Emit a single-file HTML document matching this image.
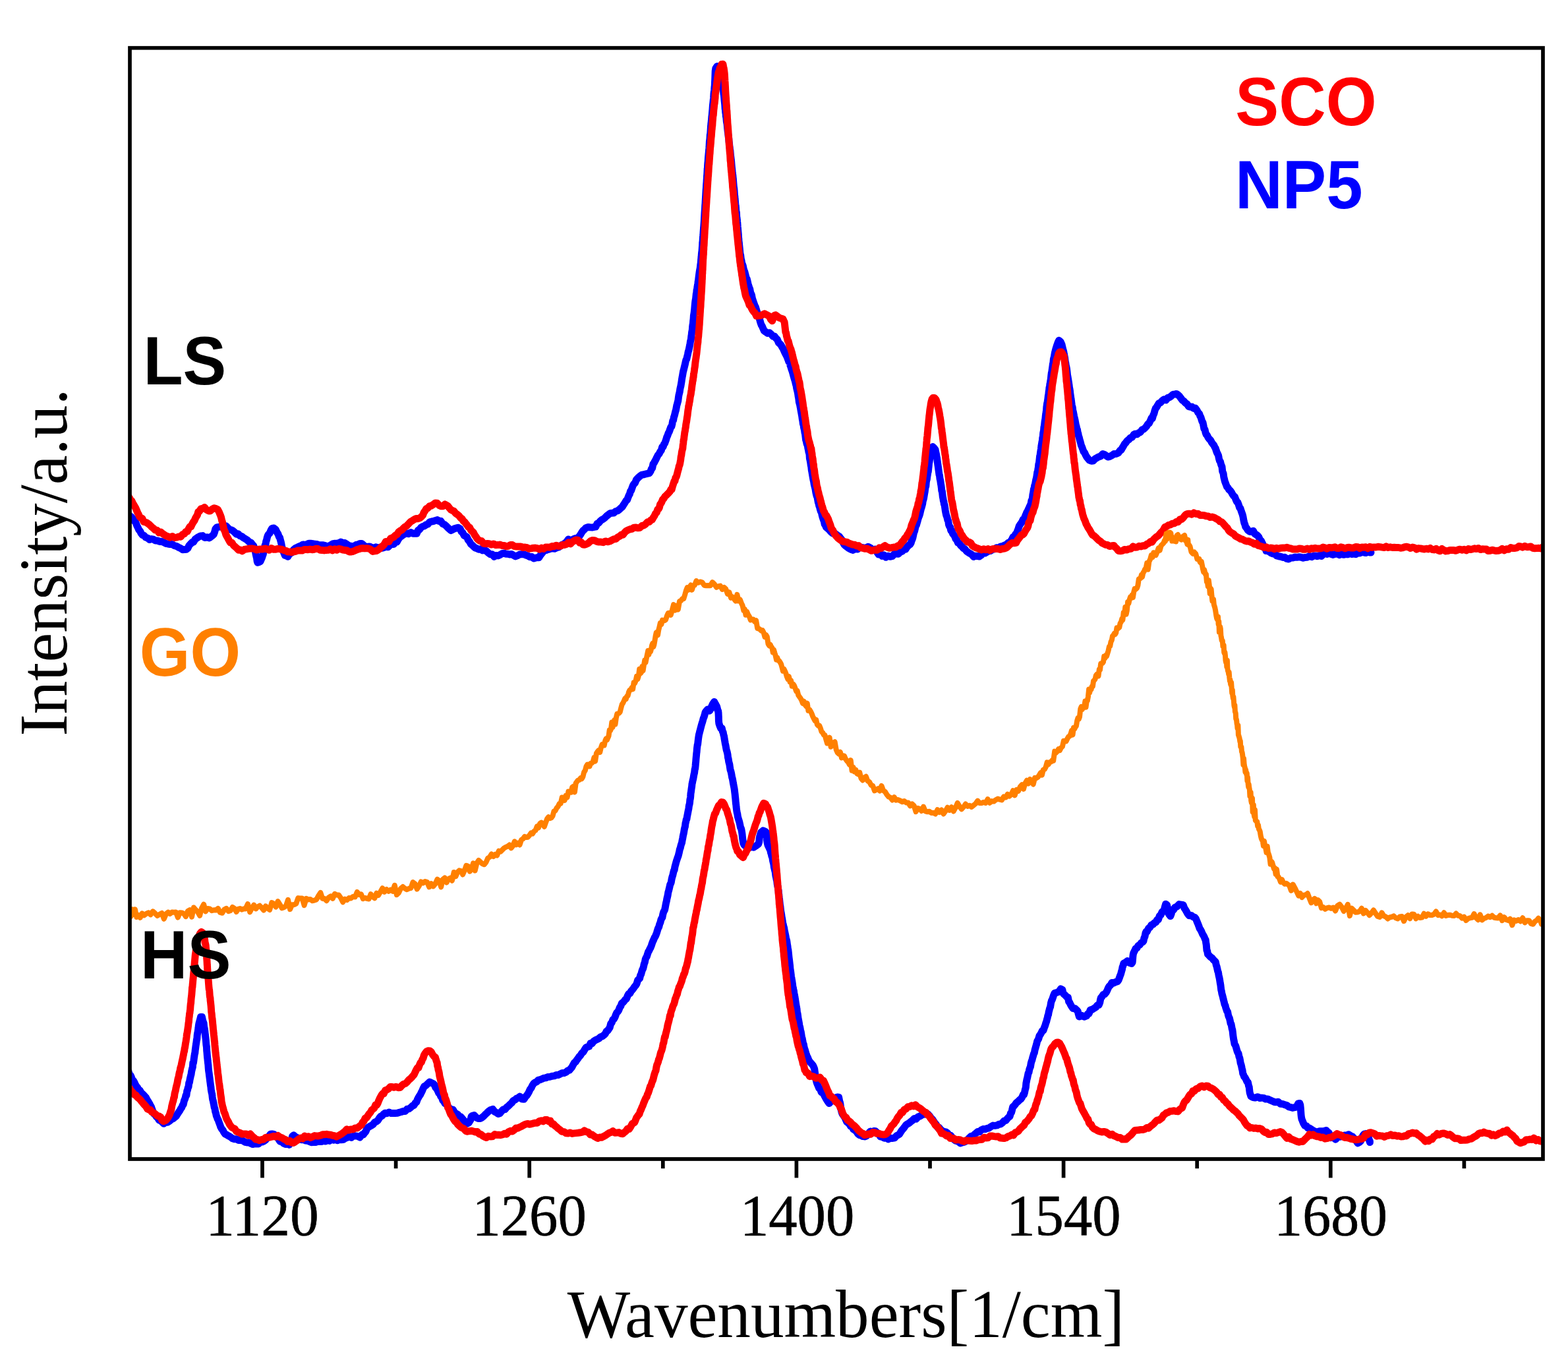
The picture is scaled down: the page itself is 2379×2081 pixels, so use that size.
<!DOCTYPE html>
<html><head><meta charset="utf-8"><title>Raman spectra</title>
<style>
html,body{margin:0;padding:0;background:#fff;}
body{width:2379px;height:2081px;overflow:hidden;}
svg{display:block;}
.serif{font-family:"Liberation Serif","Times New Roman",serif;}
.sans{font-family:"Liberation Sans",Arial,sans-serif;font-weight:bold;}
</style></head>
<body>
<svg width="2379" height="2081" viewBox="0 0 2379 2081">
<rect x="0" y="0" width="2379" height="2081" fill="#fff"/>
<defs><clipPath id="plot"><rect x="197" y="72.7" width="2144" height="1685.3"/></clipPath></defs>
<g clip-path="url(#plot)" fill="none" stroke-linejoin="round" stroke-linecap="round">
<path d="M192.0 779.0L194.3 781.3L196.7 782.2L198.9 783.7L201.0 785.8L202.8 789.1L204.5 790.8L206.2 793.1L207.8 797.3L209.3 800.4L210.9 803.8L212.5 805.5L214.2 809.0L216.1 811.5L218.4 812.2L221.0 815.0L223.9 815.9L226.9 818.4L229.9 817.6L232.9 818.2L236.0 820.1L239.2 820.1L242.3 821.4L245.2 821.2L248.6 822.7L251.7 824.3L254.8 825.0L258.0 825.5L261.1 825.4L264.3 827.5L267.5 828.3L270.6 830.1L273.8 831.5L277.1 833.7L280.0 833.6L282.7 833.2L284.9 831.6L286.9 827.4L289.0 825.1L291.3 822.7L293.7 822.1L296.2 817.8L298.7 816.1L301.2 814.4L304.1 813.0L307.4 812.6L310.6 815.5L314.0 814.8L317.7 815.9L321.0 813.4L322.8 812.1L324.2 810.6L325.5 807.4L326.9 802.2L328.8 799.9L331.4 799.4L334.3 798.8L337.4 797.8L340.5 798.0L343.0 797.8L345.6 800.6L348.2 802.9L350.8 803.8L353.4 805.0L356.0 807.4L358.7 810.2L361.4 809.8L364.1 812.7L366.8 813.5L369.4 815.7L372.2 817.3L375.2 819.2L378.1 822.0L380.8 823.1L383.0 826.1L384.5 827.5L385.6 830.1L386.5 834.0L387.2 834.9L388.0 840.0L388.8 843.6L389.5 846.3L390.2 851.4L390.9 853.3L392.9 852.7L395.0 851.6L396.5 848.1L397.5 845.9L398.3 843.3L399.1 841.3L400.0 837.1L400.7 834.4L401.4 831.8L402.1 827.0L402.9 826.2L403.7 821.1L404.5 819.2L405.4 815.0L406.3 812.4L407.3 810.5L409.0 809.0L410.8 804.8L412.7 801.4L415.5 801.0L418.2 803.1L420.1 807.1L421.9 810.0L423.4 814.3L424.5 815.3L425.4 819.0L426.2 821.7L426.9 824.9L427.6 829.1L428.4 831.5L429.3 834.5L430.8 838.8L432.3 842.5L434.1 842.9L436.9 844.3L438.9 840.5L441.1 839.1L443.4 837.7L445.7 833.5L448.2 831.5L451.0 830.2L453.9 828.8L456.9 827.6L459.9 825.9L462.7 826.5L465.5 825.7L468.5 824.2L471.6 824.3L474.6 824.6L477.6 825.3L480.7 825.5L483.9 826.6L487.1 826.7L490.3 826.8L493.5 827.6L496.5 828.7L499.5 828.0L502.5 826.3L505.4 824.6L508.3 824.2L511.2 824.4L514.1 823.6L517.0 822.1L520.1 823.4L523.1 823.6L526.0 825.2L528.9 827.5L531.7 828.2L534.6 828.9L537.5 828.2L540.3 826.5L543.3 825.9L546.2 824.4L548.9 824.6L551.8 827.0L554.7 829.9L557.8 829.3L560.9 828.9L563.9 830.4L567.0 831.6L570.3 829.8L573.6 831.3L576.8 830.0L579.9 831.3L582.8 830.4L586.0 829.3L588.9 829.7L591.8 826.7L594.6 825.1L597.5 825.5L599.8 821.6L602.2 822.0L604.5 817.9L606.8 814.7L609.1 813.3L611.4 811.4L613.8 810.0L616.6 808.7L620.0 809.8L623.4 807.5L626.6 809.3L629.7 809.1L632.2 809.3L634.4 804.2L636.5 803.2L638.8 800.2L641.4 798.5L643.8 797.9L646.3 796.0L649.1 795.1L651.9 791.8L654.9 791.0L657.8 790.5L660.6 789.6L663.4 788.5L666.1 790.4L668.8 790.3L671.6 794.5L674.3 795.6L677.0 797.8L679.5 800.4L682.0 802.7L684.2 804.6L686.9 803.3L689.9 801.6L692.7 801.0L695.1 800.2L698.1 802.0L700.1 806.4L702.1 808.2L704.2 812.2L706.3 813.2L708.3 814.4L710.3 819.0L712.4 821.5L714.4 825.2L716.5 826.8L718.6 828.9L720.9 831.0L723.4 831.8L726.2 833.2L729.2 832.8L732.2 834.9L735.2 834.5L738.1 836.0L741.0 838.6L743.9 840.7L746.8 840.8L749.7 844.3L752.6 842.5L755.6 842.9L758.5 841.7L761.5 839.8L764.4 838.9L767.4 840.2L770.3 840.2L773.2 841.0L776.1 840.4L779.0 842.2L782.1 843.9L785.3 842.7L788.4 841.0L791.7 840.6L795.0 840.8L797.8 842.1L800.8 843.0L803.9 844.8L806.9 844.6L809.9 847.0L812.7 846.2L815.3 845.7L817.6 845.8L819.8 842.3L821.9 839.6L824.0 837.0L826.3 834.6L828.7 834.5L831.7 833.4L834.9 832.4L838.2 831.8L841.5 832.2L844.7 830.7L847.5 830.0L850.1 828.4L852.5 826.3L854.9 825.6L857.3 823.7L859.7 821.7L862.4 817.9L865.4 820.1L868.4 818.6L871.3 817.1L874.2 816.4L876.6 815.8L878.7 813.7L880.7 810.8L882.7 807.5L884.6 804.8L886.6 803.2L888.7 800.9L892.0 799.5L895.3 799.8L898.7 800.0L901.5 799.3L903.8 799.1L906.1 794.1L908.3 793.3L910.6 790.5L912.8 788.5L915.0 787.5L917.6 785.5L920.3 782.7L922.9 780.8L925.5 778.7L928.3 778.2L931.2 778.0L934.2 775.5L937.1 774.7L939.7 772.8L941.9 770.6L944.1 768.9L946.2 765.4L948.3 762.2L950.2 759.1L951.6 758.3L952.9 754.5L954.1 751.6L955.3 749.5L956.5 745.1L957.6 744.2L958.9 740.4L960.2 736.7L961.8 733.9L963.6 732.4L965.4 727.7L967.4 725.5L969.4 723.6L971.5 721.8L974.0 720.1L977.0 719.7L980.2 718.8L983.1 718.2L985.3 717.6L987.0 714.9L988.4 711.3L989.7 709.9L991.0 703.7L992.3 702.1L993.7 699.4L995.1 696.8L996.7 693.4L998.3 690.3L1000.0 688.4L1001.7 685.1L1003.3 683.0L1004.7 677.9L1006.1 677.6L1007.4 673.8L1008.6 672.4L1009.7 669.4L1010.7 666.6L1011.7 663.0L1012.8 660.8L1014.0 657.2L1015.3 654.8L1016.5 651.5L1017.7 647.9L1018.9 647.0L1019.9 643.0L1020.8 638.1L1021.6 637.6L1022.4 632.9L1023.2 630.8L1024.0 627.5L1024.7 624.5L1025.5 622.0L1026.2 618.3L1026.9 614.6L1027.5 612.7L1028.2 609.9L1028.8 607.9L1029.4 603.0L1030.0 599.2L1030.6 596.7L1031.2 594.4L1031.8 590.2L1032.4 587.4L1032.9 585.5L1033.5 581.8L1034.0 579.0L1034.5 575.3L1035.0 572.3L1035.5 569.7L1036.0 566.8L1036.6 563.4L1037.3 561.0L1037.9 558.5L1038.6 555.7L1039.3 552.9L1040.1 549.0L1040.9 545.9L1041.8 544.5L1042.6 540.8L1043.4 537.8L1044.2 533.6L1045.0 531.2L1045.8 527.5L1046.5 523.9L1047.0 521.1L1047.5 517.8L1047.9 516.4L1048.4 514.5L1048.8 510.2L1049.2 508.0L1049.6 504.1L1049.9 502.5L1050.3 500.5L1050.7 494.9L1051.0 492.7L1051.4 490.9L1051.7 486.9L1052.1 483.6L1052.4 478.7L1052.7 477.1L1053.1 474.8L1053.4 472.1L1053.8 468.4L1054.1 464.3L1054.4 461.2L1054.8 457.3L1055.2 454.9L1055.5 453.7L1055.9 449.8L1056.3 445.8L1056.7 444.9L1057.1 439.6L1057.5 439.1L1058.0 435.0L1058.4 432.8L1058.8 430.3L1059.2 427.2L1059.6 425.2L1060.0 421.4L1060.4 418.3L1060.8 415.2L1061.3 411.6L1061.7 409.3L1062.1 407.6L1062.5 404.3L1062.8 401.5L1063.2 399.1L1063.6 394.2L1064.0 390.4L1064.4 385.4L1064.7 382.5L1064.9 381.9L1065.2 378.0L1065.4 374.8L1065.6 372.5L1065.8 367.9L1066.1 366.0L1066.3 362.8L1066.5 359.2L1066.7 358.6L1066.9 355.9L1067.1 351.9L1067.3 349.3L1067.6 345.2L1067.8 343.3L1068.0 340.4L1068.2 337.9L1068.4 334.8L1068.6 330.8L1068.8 327.1L1069.0 323.3L1069.2 320.3L1069.4 318.0L1069.6 314.8L1069.8 311.1L1070.0 309.2L1070.2 305.1L1070.4 301.4L1070.6 298.0L1070.8 294.9L1071.0 290.9L1071.2 287.6L1071.4 285.5L1071.6 281.6L1071.8 278.6L1072.0 276.7L1072.2 272.4L1072.4 270.5L1072.6 266.3L1072.8 264.5L1073.0 260.6L1073.2 255.8L1073.4 255.3L1073.6 251.2L1073.9 246.9L1074.1 245.7L1074.3 242.9L1074.5 239.0L1074.8 236.2L1075.0 233.9L1075.3 231.2L1075.6 227.7L1075.9 224.4L1076.1 221.0L1076.4 214.8L1076.7 212.8L1077.0 210.2L1077.3 204.8L1077.6 204.0L1077.9 200.8L1078.2 196.2L1078.4 193.2L1078.7 189.5L1079.0 187.0L1079.3 183.8L1079.6 180.7L1079.9 176.7L1080.2 174.7L1080.5 171.1L1080.7 169.1L1081.0 165.6L1081.3 161.2L1081.6 158.3L1081.8 156.7L1082.1 153.5L1082.3 151.5L1082.6 149.2L1082.8 145.9L1083.0 142.1L1083.4 138.8L1083.7 136.7L1084.0 132.2L1084.3 129.9L1084.5 124.8L1084.7 121.2L1084.9 116.0L1085.0 112.9L1085.2 107.5L1085.4 106.4L1085.9 103.5L1087.9 100.6L1090.0 103.3L1092.0 108.0L1093.1 111.4L1093.8 113.4L1094.4 117.5L1094.9 118.7L1095.4 124.2L1095.9 125.5L1096.3 129.4L1096.8 134.4L1097.2 135.6L1097.6 137.9L1097.9 142.2L1098.3 144.3L1098.6 147.1L1098.9 150.4L1099.2 153.4L1099.5 156.3L1099.8 159.4L1100.1 164.8L1100.4 166.3L1100.8 171.0L1101.1 172.2L1101.4 176.4L1101.8 177.6L1102.1 181.0L1102.4 184.6L1102.8 186.6L1103.1 188.3L1103.5 192.4L1103.8 195.6L1104.2 199.2L1104.5 201.0L1104.9 204.7L1105.3 208.0L1105.7 209.8L1106.0 214.2L1106.4 216.8L1106.8 221.0L1107.2 223.8L1107.5 226.9L1107.9 228.4L1108.3 233.4L1108.6 236.5L1109.0 239.2L1109.3 242.4L1109.6 244.7L1109.9 248.7L1110.2 252.0L1110.5 255.0L1110.8 257.1L1111.2 261.9L1111.5 264.2L1111.8 265.9L1112.1 269.6L1112.4 271.5L1112.7 275.9L1113.0 279.7L1113.3 283.2L1113.6 285.0L1113.9 287.0L1114.2 291.5L1114.5 295.8L1114.8 297.9L1115.1 301.9L1115.4 304.6L1115.7 308.2L1116.0 310.5L1116.3 312.4L1116.6 316.3L1116.9 320.8L1117.2 321.3L1117.5 323.0L1117.7 329.0L1118.0 330.3L1118.3 332.8L1118.6 336.1L1118.9 338.7L1119.2 343.7L1119.5 346.6L1119.7 349.2L1120.0 352.6L1120.3 355.8L1120.5 360.1L1120.8 362.2L1121.0 366.5L1121.3 367.8L1121.6 370.9L1121.9 373.9L1122.2 376.7L1122.5 379.8L1122.8 383.3L1123.2 386.1L1123.6 386.7L1124.3 392.8L1125.0 395.2L1125.7 399.5L1126.5 401.0L1127.3 403.3L1128.1 407.4L1128.9 410.1L1129.8 412.2L1130.7 415.7L1131.5 418.6L1132.3 421.6L1133.2 423.0L1134.1 426.4L1135.0 430.5L1135.9 433.7L1136.8 436.2L1137.7 438.3L1138.7 443.8L1139.6 445.5L1140.5 447.8L1141.4 452.7L1142.4 455.5L1143.4 458.5L1144.4 461.3L1145.4 464.1L1146.4 465.8L1147.4 469.4L1148.4 472.6L1149.4 475.7L1150.4 478.4L1151.4 480.3L1152.4 483.9L1153.3 487.3L1154.3 490.6L1155.3 493.2L1156.5 495.2L1157.8 498.3L1159.3 501.6L1161.8 503.5L1164.6 505.4L1167.6 504.7L1170.4 507.3L1172.9 510.3L1175.1 510.1L1177.3 513.1L1179.4 515.1L1181.4 519.9L1183.4 521.6L1185.2 523.7L1186.8 526.8L1188.3 529.1L1189.8 532.6L1191.2 535.5L1192.6 538.3L1194.0 541.0L1195.0 543.7L1196.0 546.2L1197.0 549.1L1198.0 549.4L1198.9 553.9L1199.9 556.6L1200.8 559.6L1201.7 562.2L1202.7 565.4L1203.6 568.9L1204.4 571.8L1205.3 574.9L1206.0 576.9L1206.7 579.5L1207.4 582.8L1208.1 584.9L1208.7 588.9L1209.4 591.7L1210.0 594.0L1210.6 597.1L1211.2 601.4L1211.8 604.4L1212.4 609.8L1213.0 611.9L1213.5 613.6L1214.1 616.9L1214.6 619.5L1215.1 622.5L1215.7 625.7L1216.2 628.6L1216.7 631.2L1217.3 635.7L1217.9 638.8L1218.4 643.1L1219.0 643.6L1219.5 648.2L1220.0 650.3L1220.5 652.3L1221.0 656.2L1221.5 657.9L1222.0 662.0L1222.6 667.1L1223.3 669.0L1223.9 672.2L1224.5 674.4L1225.2 675.0L1225.8 679.5L1226.5 682.4L1227.0 685.6L1227.5 687.1L1228.0 689.1L1228.4 695.2L1228.9 697.4L1229.4 699.8L1229.8 702.2L1230.3 705.9L1230.8 707.9L1231.3 712.9L1231.8 715.4L1232.3 718.4L1232.8 721.3L1233.4 724.7L1234.0 727.9L1234.6 730.4L1235.2 734.5L1235.8 736.9L1236.5 739.7L1237.1 742.1L1237.8 746.8L1238.5 749.9L1239.2 752.5L1239.9 753.4L1240.6 757.6L1241.3 761.6L1242.0 763.6L1242.8 767.4L1243.5 768.8L1244.3 772.4L1245.3 775.5L1246.2 776.4L1247.2 781.4L1248.1 784.8L1249.1 787.7L1250.2 790.5L1251.2 795.3L1252.3 796.6L1253.4 799.6L1255.8 801.5L1258.1 803.5L1260.7 806.7L1263.3 809.0L1266.2 808.9L1269.1 810.8L1271.6 812.7L1273.4 813.6L1275.3 816.3L1277.2 818.5L1279.2 822.9L1281.2 826.4L1283.3 828.2L1285.4 829.8L1287.5 831.5L1291.2 833.5L1294.4 834.4L1297.7 832.4L1301.0 833.1L1304.2 829.9L1307.3 830.3L1310.7 831.0L1313.9 831.1L1317.1 829.3L1320.5 830.9L1322.9 833.3L1325.4 833.9L1327.9 833.1L1330.5 837.2L1333.0 841.0L1335.7 840.1L1338.3 843.3L1341.0 841.8L1344.1 845.2L1347.4 843.3L1350.6 844.3L1353.9 843.7L1357.1 840.1L1360.1 840.0L1363.0 840.2L1366.0 837.1L1368.8 836.3L1371.5 833.5L1373.9 833.3L1376.0 829.9L1378.5 827.2L1380.6 825.9L1382.1 823.7L1383.1 820.3L1384.1 818.0L1385.0 815.2L1385.8 811.3L1386.7 807.5L1387.6 805.6L1388.5 801.6L1389.4 797.7L1390.3 796.6L1391.2 793.5L1392.1 790.4L1393.0 786.8L1393.9 784.3L1394.9 782.0L1395.8 778.9L1396.7 774.8L1397.5 771.6L1398.3 769.4L1399.1 766.3L1399.7 764.0L1400.3 759.5L1400.9 758.2L1401.5 755.9L1402.1 752.1L1402.7 748.4L1403.2 745.9L1403.8 741.0L1404.3 738.5L1404.8 737.4L1405.3 731.3L1405.8 728.6L1406.3 727.1L1406.8 723.0L1407.3 720.1L1407.8 716.5L1408.3 715.3L1408.8 710.1L1409.2 706.9L1409.6 702.2L1410.0 700.9L1410.5 697.1L1410.9 694.3L1411.3 692.3L1411.8 688.5L1412.5 683.9L1413.7 680.0L1415.2 677.6L1417.5 679.9L1419.0 682.0L1419.8 685.8L1420.6 689.5L1421.1 693.0L1421.6 694.8L1422.1 698.9L1422.6 702.6L1423.0 705.4L1423.5 708.8L1424.0 712.8L1424.5 716.2L1425.0 720.0L1425.5 721.2L1426.0 726.0L1426.5 727.8L1426.9 730.1L1427.4 733.7L1427.9 736.3L1428.4 740.2L1428.8 744.4L1429.3 744.9L1429.8 748.9L1430.3 753.5L1430.8 755.7L1431.4 759.6L1431.9 760.8L1432.4 764.7L1433.0 765.5L1433.7 770.1L1434.3 774.5L1435.0 778.1L1435.7 781.5L1436.4 783.1L1437.1 785.4L1437.8 788.7L1438.7 790.3L1439.5 795.7L1440.5 798.3L1441.6 799.5L1442.8 804.7L1444.2 805.1L1445.6 809.6L1447.0 811.3L1448.5 813.3L1450.1 817.6L1451.7 818.9L1453.4 823.2L1455.4 824.0L1457.5 827.2L1459.6 829.0L1461.8 831.6L1464.1 833.0L1466.4 836.0L1468.9 837.8L1471.6 839.4L1474.4 841.2L1477.2 844.4L1480.1 843.2L1483.0 843.6L1485.7 844.0L1488.5 842.2L1491.4 839.4L1494.3 839.1L1497.2 837.5L1500.1 835.8L1503.1 835.5L1506.1 833.2L1509.2 832.7L1512.1 830.7L1514.8 831.8L1517.8 829.1L1521.1 828.4L1524.1 827.0L1527.1 825.7L1530.0 823.0L1532.8 821.5L1535.0 818.9L1537.1 814.4L1539.1 814.1L1540.8 810.2L1542.2 809.4L1543.4 806.0L1544.8 802.6L1546.2 798.1L1547.6 795.8L1549.1 793.8L1550.6 791.7L1552.2 788.0L1553.7 787.7L1555.1 783.7L1556.5 780.6L1557.8 777.1L1559.2 774.9L1560.5 772.1L1561.8 769.1L1563.0 766.5L1564.0 764.4L1564.9 759.4L1565.7 758.0L1566.4 755.7L1566.9 750.7L1567.4 748.7L1567.9 745.5L1568.4 742.0L1569.0 740.8L1569.7 736.6L1570.4 734.9L1571.1 731.4L1571.7 727.9L1572.5 725.0L1573.2 720.7L1573.8 716.3L1574.4 715.0L1574.9 711.6L1575.3 709.5L1575.8 704.3L1576.2 703.6L1576.7 700.4L1577.1 696.7L1577.6 691.9L1578.1 690.5L1578.5 686.6L1579.0 683.7L1579.5 680.6L1579.9 676.5L1580.4 673.8L1580.9 670.6L1581.4 668.5L1581.8 664.0L1582.3 662.7L1582.7 657.1L1583.1 655.1L1583.5 653.3L1583.9 648.1L1584.3 646.9L1584.7 643.7L1585.1 639.9L1585.5 637.2L1585.9 635.5L1586.3 630.9L1586.7 628.4L1587.1 625.4L1587.5 622.9L1587.9 617.2L1588.3 614.6L1588.7 611.6L1589.2 609.3L1589.6 607.0L1590.0 604.1L1590.4 600.2L1590.8 598.7L1591.2 594.5L1591.6 592.2L1592.0 588.1L1592.5 586.6L1592.9 582.6L1593.3 581.3L1593.8 577.8L1594.3 575.2L1594.8 569.9L1595.3 565.9L1595.8 564.0L1596.3 560.1L1596.9 556.0L1597.4 552.0L1597.9 550.3L1598.4 544.9L1598.9 542.9L1599.4 541.2L1600.0 537.2L1600.5 535.1L1601.0 532.6L1601.9 529.2L1602.7 526.7L1603.7 523.5L1605.2 519.2L1606.7 516.3L1609.2 518.6L1611.0 522.5L1611.8 525.9L1612.7 529.8L1613.3 532.0L1613.8 533.6L1614.4 537.2L1615.0 540.2L1615.6 543.1L1616.2 547.9L1616.8 550.8L1617.3 554.2L1617.9 556.5L1618.4 559.0L1619.0 563.9L1619.5 568.8L1620.0 571.1L1620.5 574.5L1621.0 577.3L1621.5 580.8L1622.0 583.6L1622.5 588.1L1622.9 589.7L1623.4 592.6L1623.8 597.0L1624.2 599.4L1624.6 602.2L1625.0 605.0L1625.4 607.4L1625.8 610.6L1626.2 613.7L1626.7 616.3L1627.2 617.6L1627.8 623.2L1628.4 624.8L1629.0 627.8L1629.6 631.1L1630.3 634.0L1631.0 637.0L1631.7 640.7L1632.4 644.6L1633.1 646.7L1633.8 650.3L1634.5 651.7L1635.2 656.2L1635.8 657.4L1636.5 661.4L1637.3 663.5L1638.1 666.7L1638.8 669.1L1639.6 671.9L1640.4 675.4L1641.4 677.5L1642.6 680.8L1644.0 684.9L1645.5 686.5L1647.1 690.1L1648.9 693.3L1650.7 695.5L1652.6 697.9L1655.9 699.3L1658.6 699.1L1661.4 696.0L1664.1 694.4L1666.7 692.9L1670.0 691.9L1673.1 688.5L1676.1 689.4L1678.8 691.6L1681.5 693.1L1684.3 692.2L1687.2 690.7L1690.0 688.5L1693.3 688.5L1696.7 687.0L1699.3 683.3L1701.0 682.7L1702.8 679.4L1704.7 676.2L1706.5 673.1L1708.3 671.3L1710.1 668.6L1712.6 666.8L1715.0 664.0L1717.5 663.3L1720.2 659.2L1722.5 658.0L1725.1 658.8L1727.7 656.6L1730.3 655.4L1732.9 651.7L1735.2 651.0L1737.4 649.0L1739.5 646.6L1741.5 643.3L1743.4 642.0L1745.2 638.4L1747.0 634.3L1748.4 634.5L1749.7 629.7L1750.9 627.4L1752.1 622.6L1753.3 619.3L1754.6 617.9L1756.1 615.4L1758.1 611.8L1760.7 610.7L1763.4 607.8L1766.2 605.8L1769.0 606.9L1771.7 603.4L1774.5 602.7L1777.2 600.6L1779.9 598.2L1782.5 598.1L1785.0 597.4L1787.3 598.9L1789.5 601.0L1791.8 604.1L1793.9 607.0L1796.1 608.4L1798.5 611.2L1801.0 612.7L1803.5 616.6L1805.9 617.2L1808.5 617.1L1811.1 619.5L1813.6 619.0L1816.1 622.4L1817.9 625.9L1819.7 627.7L1820.9 631.3L1821.9 632.8L1823.0 636.5L1824.0 639.6L1825.0 640.8L1825.9 645.2L1826.9 650.5L1828.0 651.4L1829.0 655.9L1830.1 659.0L1831.5 660.3L1833.2 663.9L1834.9 666.0L1836.6 667.7L1838.4 671.0L1840.1 673.4L1841.6 675.0L1843.0 678.1L1844.2 680.0L1845.3 683.5L1846.4 686.5L1847.5 688.5L1848.5 690.7L1849.5 695.7L1850.5 699.1L1851.5 700.3L1852.4 704.1L1853.3 706.4L1854.0 708.0L1854.7 714.8L1855.4 716.5L1856.1 718.3L1856.8 723.6L1857.5 726.3L1858.3 729.9L1859.2 732.3L1860.2 734.9L1861.5 738.4L1863.0 739.7L1864.7 742.7L1866.4 744.1L1868.3 746.4L1870.1 749.9L1871.8 752.3L1873.4 753.3L1875.0 757.6L1876.5 760.9L1877.9 761.9L1879.3 765.6L1880.7 770.1L1881.9 771.0L1883.2 775.1L1884.3 778.2L1885.2 780.7L1886.0 783.8L1886.6 787.4L1887.2 790.5L1887.9 793.5L1888.7 795.1L1889.7 799.0L1891.0 800.4L1893.3 804.2L1895.9 806.2L1898.8 806.5L1901.5 805.2L1903.8 809.6L1906.0 811.0L1908.0 812.3L1909.9 814.7L1911.8 819.1L1913.5 820.3L1915.1 823.7L1916.6 826.9L1918.0 830.6L1919.5 830.5L1921.1 835.6L1923.5 835.6L1926.2 837.0L1928.9 839.0L1931.3 840.0L1933.9 839.2L1936.8 843.0L1939.9 843.7L1943.0 844.2L1946.3 845.5L1949.3 845.2L1952.1 847.4L1955.1 848.0L1958.3 846.2L1961.5 846.1L1964.7 845.0L1967.9 845.3L1971.1 844.7L1974.2 845.2L1977.2 846.2L1980.0 845.4L1983.4 845.2L1986.7 843.4L1990.0 844.7L1993.0 843.3L1996.0 842.9L1998.7 843.8L2001.8 842.5L2004.9 843.4L2008.0 840.5L2011.1 839.6L2013.7 840.4L2016.5 838.9L2019.5 840.5L2022.7 841.4L2026.0 840.3L2029.3 840.2L2032.5 841.7L2035.7 840.1L2038.6 841.3L2041.7 840.5L2044.9 840.9L2048.0 839.7L2051.0 840.5L2054.0 840.1L2057.0 840.7L2060.0 838.7L2063.1 839.1L2066.2 837.2L2069.2 837.8L2072.3 838.6L2075.4 837.1L2078.5 838.0L2080.0 838.0" stroke="#0000ff" stroke-width="11"/>
<path d="M192.0 1620.1L193.4 1623.7L194.8 1624.7L196.2 1628.9L197.7 1630.6L199.2 1633.4L200.7 1637.8L202.2 1638.9L203.7 1641.4L205.2 1644.6L206.8 1647.5L208.4 1649.2L210.1 1652.3L211.9 1653.5L213.7 1656.4L215.6 1658.7L217.6 1660.4L219.6 1662.6L221.6 1664.9L223.4 1668.4L225.1 1671.0L226.7 1673.7L228.2 1676.9L229.5 1678.8L230.8 1682.9L232.1 1686.1L233.6 1689.3L235.2 1690.5L237.2 1693.6L239.2 1695.2L241.4 1699.0L243.6 1699.7L246.0 1701.8L248.5 1704.3L251.4 1701.1L254.3 1702.3L257.3 1700.2L260.0 1697.9L262.6 1696.8L265.0 1694.8L267.2 1693.0L269.3 1689.6L271.3 1686.7L272.9 1684.4L274.3 1681.6L275.7 1679.8L277.0 1676.5L278.2 1675.0L279.4 1669.6L280.3 1667.6L281.2 1665.0L282.1 1661.1L282.9 1661.3L283.7 1654.8L284.5 1653.3L285.2 1649.9L286.0 1648.5L286.7 1642.5L287.4 1641.9L288.1 1637.4L288.7 1634.9L289.4 1631.6L290.0 1629.7L290.6 1625.3L291.1 1623.2L291.7 1620.5L292.3 1618.7L292.8 1612.2L293.4 1612.1L293.9 1608.8L294.4 1604.8L294.8 1602.4L295.3 1598.6L295.8 1597.2L296.2 1592.9L296.7 1589.4L297.1 1586.2L297.6 1583.2L298.0 1580.2L298.4 1576.7L298.8 1576.3L299.2 1570.4L299.7 1566.9L300.1 1565.2L300.6 1561.7L301.0 1558.8L301.4 1555.3L301.9 1552.5L302.5 1550.3L303.4 1547.0L304.5 1542.6L306.5 1542.6L307.6 1547.8L308.5 1550.4L309.1 1551.8L309.6 1557.2L310.0 1558.9L310.4 1561.0L310.8 1564.0L311.3 1569.0L311.6 1571.2L312.0 1574.7L312.3 1577.1L312.6 1580.5L312.9 1584.7L313.2 1586.5L313.5 1588.8L313.7 1593.7L314.0 1596.4L314.3 1600.3L314.6 1603.9L314.9 1606.1L315.2 1609.4L315.6 1612.8L315.9 1615.1L316.2 1619.8L316.5 1623.4L316.8 1625.5L317.2 1628.0L317.5 1630.8L317.9 1633.6L318.3 1636.8L318.7 1640.3L319.1 1643.0L319.5 1646.4L319.9 1648.5L320.3 1653.0L320.8 1655.6L321.2 1657.6L321.7 1659.5L322.2 1664.2L322.7 1667.8L323.2 1669.1L323.8 1672.3L324.5 1675.5L325.2 1679.7L326.0 1681.6L326.7 1686.3L327.5 1688.3L328.3 1692.3L329.2 1694.5L330.1 1697.1L331.1 1698.8L332.3 1702.4L333.6 1705.8L334.9 1709.6L336.4 1712.2L338.0 1714.1L339.7 1717.4L341.6 1720.1L344.1 1721.3L346.8 1722.9L349.7 1724.5L352.7 1726.8L355.7 1727.8L358.8 1727.7L362.0 1729.6L365.2 1729.6L368.5 1730.1L371.7 1732.4L374.6 1732.9L377.6 1732.7L380.6 1734.4L383.5 1735.5L386.4 1734.9L389.3 1735.1L392.2 1735.0L395.1 1731.8L397.9 1732.1L400.6 1730.8L403.2 1728.9L405.7 1724.9L408.1 1723.5L410.4 1720.2L412.7 1719.9L416.1 1720.7L418.3 1722.5L420.4 1724.5L422.6 1727.6L424.8 1731.2L427.4 1731.5L430.5 1734.3L433.6 1735.5L436.5 1735.2L438.9 1736.4L440.6 1731.9L442.0 1730.1L443.6 1723.6L445.6 1721.7L448.2 1724.4L451.1 1725.6L454.3 1726.7L457.6 1728.7L460.7 1728.3L463.5 1730.0L466.4 1730.3L469.4 1731.4L472.5 1732.7L475.6 1732.3L478.8 1732.6L481.7 1731.6L484.7 1731.5L487.8 1731.4L491.0 1730.5L494.1 1731.1L497.2 1728.8L500.1 1730.4L502.9 1727.7L505.9 1729.2L509.0 1727.7L511.8 1729.8L514.7 1728.7L517.8 1728.7L520.7 1728.5L523.7 1726.6L526.9 1725.4L530.1 1723.7L533.1 1725.4L536.0 1723.2L539.2 1722.8L542.7 1723.4L546.0 1725.0L549.1 1721.1L551.2 1721.1L553.2 1718.2L555.0 1716.2L556.9 1711.4L558.8 1709.8L560.8 1708.6L563.3 1707.2L565.9 1705.6L568.6 1702.1L571.2 1701.1L573.6 1699.0L575.6 1695.7L577.6 1693.2L579.7 1692.5L581.8 1690.0L584.2 1688.3L587.1 1688.7L590.2 1687.0L593.5 1688.6L596.7 1688.5L599.8 1688.4L602.9 1688.3L606.0 1687.3L609.0 1686.5L612.0 1685.4L614.8 1685.5L617.6 1682.3L620.4 1681.9L623.1 1679.9L625.7 1677.4L628.1 1676.4L630.1 1672.8L631.9 1671.8L633.4 1667.5L634.8 1664.9L636.1 1662.6L637.7 1660.3L639.1 1657.4L640.6 1654.5L642.1 1650.8L643.8 1647.7L646.0 1646.6L648.8 1643.9L651.7 1641.1L654.5 1642.3L657.3 1643.7L659.1 1645.3L660.8 1649.4L662.5 1651.2L664.3 1654.5L665.8 1658.0L667.3 1659.1L668.8 1663.1L670.3 1664.7L671.8 1669.1L673.4 1670.6L675.1 1673.7L677.1 1674.8L679.5 1678.0L682.0 1681.1L684.5 1682.7L687.1 1682.9L689.6 1687.1L691.9 1689.1L694.3 1690.2L696.7 1693.7L699.0 1693.7L701.2 1696.3L703.3 1699.0L706.1 1701.8L708.8 1704.2L711.1 1703.1L712.7 1700.7L713.9 1698.7L715.2 1693.4L717.0 1692.2L719.5 1691.5L722.4 1694.9L725.6 1696.4L728.7 1696.6L731.1 1695.2L733.7 1693.2L736.3 1690.3L738.9 1688.0L741.5 1685.4L743.9 1683.7L747.7 1682.4L750.5 1686.3L753.2 1687.5L756.0 1689.5L758.5 1688.8L761.0 1685.5L763.6 1682.7L766.3 1682.7L768.8 1679.4L771.2 1677.7L773.7 1675.1L776.3 1672.9L778.9 1669.4L781.5 1668.1L783.9 1666.0L786.2 1665.2L788.9 1663.1L792.0 1667.1L795.0 1667.2L797.5 1663.3L799.2 1661.6L800.8 1659.2L802.5 1656.3L804.2 1652.4L805.9 1650.3L807.7 1646.5L809.8 1643.4L812.1 1641.6L814.4 1640.8L816.9 1638.1L819.5 1637.7L822.4 1636.5L825.1 1635.2L828.0 1634.9L831.2 1633.5L834.4 1633.2L837.7 1632.3L840.9 1631.9L844.0 1630.5L846.8 1630.6L850.0 1629.0L853.0 1627.6L855.9 1627.6L858.7 1626.3L861.5 1623.8L863.9 1623.2L865.8 1620.9L867.7 1618.8L869.6 1615.1L871.4 1611.8L873.2 1610.8L875.0 1607.9L876.9 1605.6L878.7 1602.8L880.6 1601.0L882.7 1597.5L884.8 1595.8L887.0 1592.2L889.2 1588.7L891.5 1587.9L893.7 1587.3L895.9 1582.6L898.2 1582.8L900.4 1579.6L903.1 1577.8L905.9 1576.5L908.7 1575.1L911.4 1572.6L914.1 1571.7L916.5 1569.8L918.4 1567.9L920.2 1564.2L921.9 1563.4L923.6 1560.9L925.2 1558.5L926.7 1552.6L928.3 1551.0L929.9 1546.5L931.4 1545.7L932.9 1543.1L934.4 1539.0L935.8 1535.9L937.3 1534.5L938.8 1532.2L940.2 1528.3L941.8 1526.1L943.3 1521.8L945.0 1520.6L946.8 1518.7L948.6 1516.3L950.4 1515.0L952.2 1510.4L954.0 1507.1L955.8 1506.8L957.6 1503.3L959.3 1501.5L961.0 1499.3L962.8 1496.6L964.5 1494.7L966.1 1491.9L967.7 1486.7L969.3 1485.1L970.6 1483.9L971.7 1479.3L972.7 1477.6L973.7 1473.9L974.7 1470.7L975.6 1469.3L976.5 1465.8L977.4 1461.8L978.3 1459.7L979.2 1454.9L980.3 1452.4L981.3 1450.8L982.4 1447.3L983.6 1443.7L984.7 1442.1L985.9 1439.3L987.1 1437.3L988.3 1434.2L989.5 1430.5L990.7 1427.5L991.9 1425.0L993.1 1422.0L994.2 1420.5L995.3 1417.8L996.4 1414.8L997.5 1411.2L998.6 1407.8L999.7 1405.8L1000.7 1401.9L1001.8 1399.4L1002.9 1395.0L1003.9 1393.0L1004.9 1391.6L1005.8 1386.7L1006.7 1383.5L1007.6 1381.7L1008.5 1380.1L1009.2 1376.9L1010.0 1372.4L1010.6 1369.4L1011.3 1366.7L1011.9 1363.0L1012.5 1360.8L1013.2 1357.5L1013.8 1353.5L1014.5 1351.2L1015.2 1348.4L1016.0 1344.9L1016.7 1341.7L1017.5 1340.3L1018.3 1338.1L1019.1 1333.3L1019.9 1330.1L1020.7 1327.8L1021.5 1324.1L1022.4 1320.6L1023.2 1319.4L1024.0 1314.5L1024.8 1311.8L1025.5 1309.0L1026.3 1306.1L1027.2 1303.5L1028.0 1301.1L1028.9 1298.8L1029.8 1295.3L1030.6 1291.9L1031.4 1288.1L1032.2 1286.2L1033.0 1282.6L1033.7 1280.4L1034.5 1278.3L1035.1 1274.6L1035.8 1271.3L1036.4 1267.8L1037.0 1265.3L1037.6 1262.4L1038.2 1258.5L1038.8 1255.7L1039.4 1253.8L1040.0 1248.7L1040.6 1246.7L1041.2 1243.1L1041.9 1242.3L1042.5 1238.5L1043.1 1235.5L1043.7 1232.4L1044.3 1229.3L1044.9 1226.3L1045.5 1221.7L1046.0 1220.2L1046.5 1217.5L1046.9 1212.8L1047.3 1211.6L1047.7 1208.4L1048.0 1203.6L1048.4 1201.4L1048.8 1198.5L1049.2 1195.4L1049.6 1193.2L1050.0 1189.0L1050.6 1186.6L1051.1 1183.8L1051.8 1181.2L1052.4 1177.6L1053.0 1174.3L1053.6 1172.0L1054.2 1166.7L1054.7 1165.7L1055.1 1161.8L1055.4 1158.0L1055.7 1155.5L1056.0 1151.2L1056.3 1147.9L1056.5 1146.0L1056.8 1142.5L1057.1 1140.5L1057.4 1136.1L1057.8 1132.7L1058.2 1129.9L1058.6 1128.9L1059.1 1124.4L1059.5 1120.8L1060.0 1117.4L1060.5 1114.3L1061.1 1112.1L1061.6 1109.8L1062.2 1107.8L1063.0 1104.7L1064.0 1100.8L1065.1 1097.0L1066.1 1093.9L1067.2 1089.7L1068.2 1087.3L1069.0 1084.7L1070.0 1080.6L1071.2 1078.6L1073.4 1076.2L1076.6 1078.2L1078.3 1075.3L1079.8 1071.3L1081.3 1067.9L1083.7 1064.5L1085.6 1068.1L1087.5 1071.4L1089.0 1077.4L1089.6 1078.4L1090.0 1081.1L1090.2 1085.4L1090.3 1087.3L1090.4 1092.6L1090.5 1094.1L1090.9 1097.5L1092.0 1100.8L1093.6 1104.6L1095.3 1104.7L1096.4 1109.7L1097.2 1110.9L1097.8 1114.4L1098.5 1116.5L1099.1 1120.7L1099.7 1124.0L1100.3 1127.7L1101.0 1130.8L1101.6 1134.2L1102.2 1137.4L1102.8 1139.2L1103.4 1141.5L1104.0 1144.4L1104.5 1149.0L1105.1 1151.1L1105.7 1155.3L1106.3 1157.5L1106.9 1159.7L1107.5 1164.2L1108.1 1168.0L1108.7 1169.3L1109.3 1171.6L1109.9 1174.6L1110.6 1178.9L1111.2 1180.7L1111.8 1183.8L1112.4 1187.6L1112.9 1190.1L1113.5 1193.2L1114.0 1195.8L1114.4 1198.6L1114.8 1202.2L1115.2 1205.3L1115.5 1208.7L1115.8 1211.0L1116.1 1214.8L1116.4 1218.1L1116.8 1220.9L1117.1 1224.4L1117.5 1227.7L1117.8 1230.0L1118.3 1232.7L1118.8 1234.5L1119.4 1238.8L1120.2 1241.5L1121.0 1244.3L1121.8 1246.8L1122.7 1250.7L1123.5 1255.0L1124.3 1256.2L1125.0 1258.8L1125.6 1262.4L1126.0 1265.1L1126.4 1269.3L1126.7 1272.2L1127.2 1275.5L1127.9 1279.1L1129.0 1281.5L1130.9 1283.2L1134.0 1284.1L1137.4 1285.5L1140.6 1284.4L1143.5 1285.3L1146.4 1283.3L1148.9 1281.7L1150.7 1280.1L1151.7 1276.8L1152.2 1271.6L1152.7 1268.7L1153.5 1265.9L1154.7 1262.5L1157.8 1259.8L1161.2 1261.3L1163.4 1263.7L1163.7 1267.1L1163.7 1270.5L1163.6 1274.3L1164.0 1277.7L1165.0 1281.8L1166.2 1284.2L1167.6 1287.3L1168.8 1289.7L1169.6 1293.7L1170.3 1295.4L1171.0 1299.0L1171.7 1299.8L1172.5 1305.2L1173.3 1308.6L1173.9 1311.0L1174.4 1315.3L1175.0 1317.5L1175.6 1320.2L1176.3 1323.0L1176.9 1328.2L1177.5 1330.6L1178.1 1333.8L1178.7 1335.9L1179.2 1340.8L1179.7 1343.5L1180.2 1345.8L1180.7 1348.9L1181.1 1350.6L1181.4 1355.4L1181.8 1356.9L1182.2 1361.5L1182.5 1363.4L1182.8 1366.3L1183.2 1370.1L1183.5 1373.0L1183.9 1374.9L1184.3 1378.8L1184.7 1382.3L1185.1 1384.6L1185.6 1386.7L1186.1 1390.6L1186.6 1393.0L1187.1 1396.3L1187.7 1399.8L1188.3 1402.7L1189.0 1405.5L1189.6 1407.3L1190.3 1411.9L1190.9 1414.4L1191.5 1417.2L1192.2 1420.6L1192.8 1425.0L1193.4 1425.4L1193.9 1428.1L1194.5 1433.0L1194.9 1434.8L1195.4 1439.4L1195.8 1440.5L1196.2 1443.9L1196.6 1447.9L1196.9 1451.0L1197.2 1453.6L1197.6 1456.6L1197.9 1459.1L1198.2 1461.8L1198.6 1465.0L1198.9 1469.1L1199.3 1471.7L1199.7 1474.1L1200.1 1477.4L1200.5 1480.7L1201.0 1484.0L1201.4 1485.9L1201.9 1488.9L1202.4 1492.2L1202.9 1496.9L1203.4 1498.1L1203.9 1501.9L1204.4 1502.7L1204.9 1507.6L1205.4 1508.7L1205.9 1512.0L1206.5 1515.3L1207.0 1518.7L1207.5 1521.9L1208.0 1525.0L1208.5 1527.9L1209.0 1530.4L1209.5 1535.8L1210.0 1537.1L1210.5 1540.4L1211.0 1544.5L1211.5 1546.7L1212.0 1549.4L1212.5 1552.2L1213.0 1556.4L1213.5 1557.1L1214.1 1560.1L1214.6 1563.8L1215.2 1564.9L1215.8 1568.7L1216.5 1573.3L1217.2 1575.2L1217.9 1578.9L1218.5 1582.4L1219.3 1584.0L1220.0 1588.1L1220.7 1590.4L1221.5 1592.8L1222.4 1596.3L1223.3 1599.1L1224.2 1601.3L1225.4 1603.8L1226.9 1607.8L1228.6 1610.5L1230.4 1612.4L1232.0 1614.2L1233.5 1616.0L1234.8 1618.8L1235.7 1621.4L1236.3 1625.5L1236.8 1629.1L1237.2 1632.3L1237.6 1634.7L1238.1 1637.4L1238.8 1640.7L1239.8 1643.6L1241.2 1647.0L1242.7 1650.6L1244.4 1651.6L1246.1 1656.6L1247.8 1656.1L1249.6 1659.5L1251.5 1663.1L1253.4 1666.6L1255.3 1669.8L1258.0 1673.6L1261.0 1670.1L1264.0 1668.9L1267.1 1665.4L1270.2 1664.1L1272.6 1664.3L1273.8 1670.5L1274.4 1671.9L1275.0 1675.1L1275.6 1681.3L1276.3 1683.5L1277.1 1687.2L1278.3 1689.9L1279.7 1692.0L1281.3 1694.2L1283.0 1697.7L1284.8 1701.7L1286.8 1703.2L1288.7 1705.0L1290.7 1708.3L1292.7 1708.8L1294.8 1712.9L1297.1 1714.3L1299.4 1716.2L1301.7 1719.7L1304.1 1721.6L1306.6 1722.3L1309.1 1723.6L1311.8 1723.9L1314.6 1723.0L1317.5 1719.4L1320.4 1716.1L1323.2 1718.2L1325.8 1715.5L1328.5 1715.8L1331.0 1718.3L1333.4 1720.2L1335.8 1724.1L1338.4 1724.4L1341.3 1726.2L1344.3 1725.7L1347.7 1727.9L1351.1 1726.1L1354.4 1726.5L1357.6 1725.8L1360.4 1722.5L1362.7 1721.5L1364.8 1720.1L1366.6 1717.0L1368.4 1714.2L1370.2 1712.3L1372.2 1709.8L1374.4 1706.5L1376.8 1704.8L1379.4 1703.4L1382.0 1701.1L1384.6 1699.2L1387.3 1696.5L1389.9 1697.3L1392.7 1694.2L1395.9 1692.9L1399.0 1691.1L1402.1 1690.1L1405.1 1689.9L1407.7 1689.7L1410.7 1693.0L1412.7 1695.9L1414.7 1697.8L1416.7 1700.9L1418.6 1703.6L1420.6 1706.0L1422.6 1710.0L1424.6 1710.1L1427.1 1713.0L1429.7 1715.3L1432.2 1716.3L1434.8 1716.8L1437.4 1718.4L1440.0 1722.2L1442.4 1722.2L1444.7 1725.3L1447.1 1728.1L1449.5 1730.1L1451.9 1730.6L1454.4 1731.9L1457.0 1733.9L1459.5 1733.1L1462.2 1732.5L1464.9 1731.2L1467.6 1729.3L1470.4 1726.0L1473.1 1723.6L1475.7 1723.7L1478.2 1720.8L1481.0 1718.7L1483.6 1716.4L1486.2 1716.8L1488.8 1713.9L1491.5 1712.6L1494.4 1712.8L1497.3 1711.6L1500.4 1711.0L1503.6 1708.8L1506.7 1707.1L1509.8 1707.4L1512.8 1706.9L1515.6 1705.3L1518.3 1705.0L1521.0 1702.9L1523.6 1700.0L1526.1 1699.4L1528.3 1696.8L1530.3 1694.5L1532.1 1693.3L1533.5 1688.2L1534.5 1687.4L1535.4 1684.3L1536.7 1678.7L1538.3 1677.6L1540.1 1675.5L1542.2 1672.6L1544.4 1670.9L1546.7 1668.6L1548.8 1667.1L1550.8 1664.2L1552.4 1660.3L1553.6 1660.3L1554.5 1657.2L1555.3 1652.9L1555.9 1651.2L1556.4 1648.9L1556.9 1642.8L1557.4 1640.5L1558.0 1637.2L1558.7 1634.8L1559.4 1631.2L1560.2 1627.3L1561.0 1626.4L1561.8 1622.1L1562.6 1619.8L1563.4 1618.0L1564.3 1612.5L1565.1 1609.7L1565.9 1607.8L1566.8 1604.0L1567.6 1601.5L1568.5 1598.1L1569.3 1597.1L1570.1 1592.6L1571.0 1589.4L1571.9 1586.3L1572.7 1583.6L1573.7 1579.2L1574.7 1577.5L1575.7 1575.6L1577.0 1571.1L1578.4 1569.2L1580.0 1566.3L1581.5 1563.3L1583.0 1562.9L1584.4 1558.7L1585.7 1555.6L1586.8 1551.7L1587.7 1549.5L1588.5 1546.1L1589.3 1543.2L1589.9 1540.3L1590.6 1539.0L1591.2 1535.0L1591.9 1532.5L1592.6 1529.5L1593.6 1527.1L1594.5 1521.3L1595.5 1517.8L1596.4 1516.2L1597.3 1513.7L1598.5 1509.8L1600.0 1506.3L1603.2 1505.5L1606.5 1504.1L1609.4 1500.0L1611.9 1501.2L1612.8 1505.8L1614.0 1507.7L1616.5 1509.9L1619.0 1512.7L1620.4 1513.0L1621.6 1519.2L1622.8 1520.5L1624.3 1523.9L1626.1 1526.9L1628.0 1529.6L1630.7 1529.5L1634.0 1532.4L1635.3 1534.1L1636.1 1537.5L1637.4 1542.0L1641.0 1540.2L1644.9 1542.2L1648.6 1540.9L1650.5 1537.6L1652.2 1537.3L1654.2 1531.8L1657.0 1531.2L1660.0 1529.4L1662.6 1527.7L1665.0 1524.7L1667.2 1524.3L1668.7 1520.7L1669.5 1516.5L1670.3 1513.5L1671.7 1512.0L1673.8 1508.7L1676.1 1507.8L1678.2 1505.4L1680.0 1501.9L1681.8 1497.8L1683.4 1495.4L1684.9 1494.3L1686.9 1490.5L1689.6 1491.0L1693.2 1489.3L1695.6 1488.7L1697.0 1486.7L1698.3 1483.3L1699.4 1480.2L1700.5 1477.5L1701.5 1473.6L1702.4 1470.7L1703.1 1466.6L1703.8 1465.2L1704.8 1461.3L1706.9 1460.3L1710.4 1457.7L1713.8 1460.5L1716.9 1461.4L1718.1 1459.6L1718.5 1455.8L1718.8 1451.4L1719.2 1448.1L1719.8 1445.5L1721.1 1442.9L1722.9 1438.9L1724.9 1437.9L1727.0 1434.3L1729.3 1433.1L1731.6 1429.9L1733.7 1428.9L1734.9 1427.5L1736.0 1422.5L1737.0 1420.6L1738.0 1415.2L1739.1 1412.9L1740.3 1413.0L1742.5 1408.2L1744.8 1406.5L1747.1 1402.7L1749.5 1402.0L1751.8 1399.4L1753.9 1398.7L1755.7 1394.9L1757.5 1394.7L1759.2 1389.3L1761.1 1387.8L1763.1 1383.3L1765.0 1381.7L1766.3 1379.9L1767.5 1375.2L1768.7 1371.2L1770.6 1372.8L1771.3 1376.5L1772.0 1380.4L1772.7 1385.2L1773.5 1386.6L1775.8 1389.6L1777.2 1385.9L1778.7 1380.1L1780.6 1380.1L1782.9 1376.1L1785.8 1375.0L1788.9 1371.6L1792.0 1372.1L1795.2 1372.7L1796.9 1377.4L1798.5 1379.7L1800.1 1382.4L1801.8 1385.6L1804.2 1388.8L1807.4 1388.5L1810.6 1390.9L1812.9 1391.6L1814.5 1393.7L1816.0 1397.5L1817.4 1400.8L1818.8 1404.4L1820.1 1408.2L1821.4 1410.0L1822.9 1412.9L1824.4 1416.5L1825.9 1418.9L1827.2 1421.3L1828.4 1424.6L1829.2 1425.5L1829.7 1430.0L1830.2 1432.6L1830.6 1437.0L1831.0 1441.4L1831.7 1442.5L1832.5 1447.3L1834.1 1448.8L1836.4 1451.4L1839.0 1453.1L1841.5 1456.3L1843.1 1457.8L1844.3 1459.1L1845.3 1463.8L1846.2 1466.3L1847.0 1470.0L1847.7 1473.2L1848.4 1474.9L1849.1 1479.2L1849.8 1482.2L1850.4 1485.1L1850.9 1488.4L1851.4 1491.7L1851.9 1494.2L1852.3 1497.7L1852.8 1501.8L1853.3 1503.3L1853.9 1507.1L1854.6 1509.4L1855.4 1512.4L1856.2 1515.9L1857.1 1519.3L1858.0 1523.3L1858.9 1524.8L1859.8 1528.6L1860.8 1531.2L1861.6 1533.7L1862.6 1534.6L1863.5 1539.6L1864.4 1542.4L1865.4 1544.4L1866.3 1548.3L1867.1 1552.3L1867.9 1553.2L1868.6 1556.7L1869.3 1560.8L1869.8 1561.7L1870.3 1565.4L1870.7 1569.6L1871.2 1573.2L1871.7 1576.5L1872.3 1579.1L1873.0 1583.2L1873.9 1584.8L1874.8 1586.5L1875.9 1590.3L1876.9 1593.9L1878.0 1596.6L1879.0 1597.8L1880.0 1602.8L1880.8 1604.7L1881.5 1608.2L1882.2 1612.6L1882.9 1614.4L1883.6 1617.2L1884.3 1620.7L1885.0 1623.3L1885.7 1628.3L1886.6 1630.0L1887.6 1633.0L1889.1 1634.6L1890.6 1637.3L1892.0 1640.7L1893.4 1641.5L1894.5 1647.0L1895.2 1648.6L1895.7 1653.5L1896.2 1657.3L1896.9 1659.6L1898.0 1662.9L1901.3 1664.6L1904.4 1665.1L1908.1 1663.7L1911.6 1665.5L1914.3 1665.1L1917.3 1665.4L1920.4 1667.1L1923.6 1667.0L1926.9 1668.6L1930.2 1670.0L1933.4 1671.4L1936.6 1671.7L1939.5 1671.2L1942.5 1674.3L1945.8 1674.6L1949.0 1675.6L1952.3 1676.5L1955.4 1678.8L1958.3 1679.5L1961.0 1680.4L1964.4 1679.7L1967.3 1678.7L1969.5 1674.0L1971.9 1673.5L1972.8 1676.1L1973.2 1679.8L1973.4 1682.1L1973.7 1686.4L1974.0 1690.6L1974.4 1694.1L1975.1 1697.6L1976.1 1699.9L1977.8 1704.2L1979.7 1707.3L1981.9 1707.4L1984.2 1710.8L1986.6 1710.9L1989.2 1712.8L1992.3 1714.7L1995.5 1716.2L1998.8 1717.3L2001.9 1715.8L2005.5 1715.7L2009.0 1715.5L2012.2 1714.5L2014.6 1717.4L2016.1 1718.1L2017.4 1721.2L2018.7 1725.8L2020.6 1724.7L2023.3 1725.5L2026.5 1728.2L2029.8 1724.5L2033.3 1724.2L2036.4 1723.4L2039.7 1722.1L2043.0 1722.0L2046.3 1720.7L2049.3 1722.8L2051.9 1723.8L2054.2 1726.4L2056.2 1728.5L2058.1 1730.8L2060.0 1733.9L2062.8 1732.4L2064.6 1730.6L2066.4 1725.3L2068.1 1722.1L2069.8 1720.1L2072.3 1719.5L2073.9 1721.2L2075.4 1723.3L2076.9 1727.3L2078.4 1732.6L2078.4 1731.0" stroke="#0000ff" stroke-width="11"/>
<path d="M192.0 749.9L193.6 750.1L195.3 753.6L196.9 756.0L198.5 759.1L200.0 759.9L201.6 763.5L203.2 766.0L204.7 768.5L206.2 771.4L207.5 774.5L208.8 777.6L210.1 779.9L211.7 783.6L213.6 785.4L215.8 786.3L218.0 791.4L220.1 791.9L222.9 792.9L225.7 794.9L228.0 797.0L230.3 799.4L232.8 801.3L235.4 804.1L238.1 804.2L241.0 807.9L243.9 807.0L246.7 809.4L249.4 811.2L252.1 812.9L255.1 813.7L258.3 815.2L261.7 813.5L264.8 815.5L268.2 815.1L271.4 813.9L274.3 814.2L277.0 810.7L279.6 809.7L282.1 806.2L284.3 806.0L286.4 801.7L288.1 798.7L289.8 798.8L291.5 795.0L293.2 792.0L295.0 789.7L296.6 785.8L298.1 783.2L299.4 781.2L300.8 776.1L302.5 775.5L304.9 771.6L307.6 771.3L310.3 769.5L313.2 773.1L316.2 774.9L319.0 774.9L321.9 772.2L324.6 770.7L327.4 771.3L330.4 772.9L332.4 776.6L333.7 779.9L334.7 782.2L335.7 785.3L336.6 789.5L337.4 791.7L338.1 795.8L338.8 798.1L339.6 802.8L340.5 804.4L341.6 806.9L342.8 811.0L344.1 813.5L345.6 816.1L347.4 819.5L349.4 822.9L351.7 822.9L354.2 827.0L356.6 829.1L359.3 831.5L362.1 834.3L364.7 834.0L367.6 835.8L370.9 833.4L374.0 832.8L376.8 832.3L379.9 832.1L383.2 832.0L386.3 832.7L389.2 834.1L392.3 833.3L395.5 833.1L398.8 832.9L402.1 832.1L405.4 833.1L408.5 834.3L411.7 831.6L415.1 833.2L418.5 833.2L421.8 832.4L424.9 832.9L427.9 833.5L430.9 834.8L433.8 835.3L436.6 837.0L439.4 836.9L442.4 837.7L445.5 836.8L448.7 836.3L452.0 834.9L455.3 835.0L458.5 835.1L461.5 833.5L464.5 833.6L467.4 833.7L470.4 833.1L473.4 833.7L476.5 833.2L479.5 832.2L482.5 832.5L485.6 834.2L488.7 834.4L491.9 834.9L495.0 834.4L498.1 834.3L501.3 832.7L504.5 834.9L507.8 832.8L510.9 834.3L514.0 832.4L517.0 832.9L520.3 834.1L523.5 834.4L526.6 835.0L529.7 836.9L533.0 836.9L535.8 836.3L538.8 835.0L541.8 833.6L544.8 832.8L547.8 831.8L550.8 831.5L553.6 831.9L556.7 831.6L559.7 832.2L562.7 833.7L565.6 836.4L568.4 835.9L571.0 835.5L573.5 834.2L575.8 832.5L578.1 829.9L580.4 828.4L582.8 826.0L585.2 821.5L587.6 821.4L590.1 821.6L592.6 816.6L595.0 815.8L597.5 814.6L599.9 811.8L602.3 810.9L604.8 806.9L607.2 805.0L609.6 803.9L612.0 801.4L614.3 799.1L616.6 798.2L618.8 795.7L621.1 793.3L623.4 791.0L625.7 789.7L628.3 787.9L631.3 786.5L634.3 786.7L637.2 785.6L639.6 783.5L641.5 781.5L643.2 777.1L644.9 774.9L646.7 771.7L648.7 770.9L651.5 767.9L654.4 767.1L657.5 765.1L660.4 762.9L663.5 763.3L666.5 766.7L669.4 767.8L672.3 767.7L675.1 764.9L677.5 766.3L679.6 767.7L681.8 770.5L684.1 773.2L686.4 774.4L688.7 775.2L691.2 778.6L693.8 780.2L696.3 782.2L698.8 785.5L701.0 786.9L703.0 790.3L705.0 791.6L706.9 794.3L708.8 796.6L710.7 799.3L712.7 800.1L714.6 804.4L716.5 806.0L718.4 807.8L720.3 811.7L722.2 814.1L724.1 817.3L726.1 819.0L728.2 820.5L730.7 820.5L733.5 824.2L736.5 824.7L739.5 824.6L742.5 824.8L745.6 826.0L748.8 824.9L752.0 826.7L755.3 826.6L758.5 826.1L761.7 827.4L764.8 827.5L767.9 828.7L771.3 828.2L774.4 826.5L777.4 826.6L780.5 828.6L783.7 829.0L787.0 829.0L790.2 829.0L793.4 830.5L796.6 830.0L799.7 830.7L802.9 832.2L806.0 831.9L809.1 831.2L812.3 831.0L815.4 831.7L818.6 833.1L821.7 831.0L824.9 832.5L828.0 830.0L831.2 830.0L834.3 830.2L837.4 828.5L840.6 828.7L843.8 827.2L847.1 828.3L850.3 828.3L853.5 826.4L856.6 826.5L859.6 825.3L862.6 822.9L865.7 824.9L868.7 821.6L871.5 820.1L874.2 818.9L876.9 819.2L879.5 823.2L882.0 822.6L884.5 826.0L887.2 826.3L890.0 825.1L892.9 823.7L895.9 820.7L899.0 819.5L902.2 819.7L905.4 821.3L908.7 822.1L912.0 822.1L915.3 822.7L918.6 820.9L921.9 821.8L925.2 821.0L928.3 819.4L931.3 817.7L934.3 817.6L937.2 814.8L940.0 813.4L942.8 811.1L945.3 811.2L947.7 807.7L950.2 805.3L953.0 803.8L955.7 802.8L958.7 802.3L961.9 800.2L965.0 800.1L968.0 800.8L970.7 800.5L974.0 797.5L976.9 796.9L979.7 794.8L982.5 791.8L985.1 791.6L987.7 788.6L989.4 788.2L991.2 785.0L992.9 782.5L994.7 778.7L996.3 777.2L997.8 772.8L999.2 771.8L1000.4 769.8L1001.6 764.8L1002.7 763.7L1003.9 761.6L1005.4 757.7L1007.2 756.1L1009.0 753.0L1011.5 750.7L1014.5 747.7L1016.5 745.4L1017.9 742.4L1019.2 742.4L1020.5 737.4L1021.7 733.8L1022.9 729.8L1024.0 729.5L1025.0 724.4L1026.0 723.7L1027.0 720.5L1027.9 716.8L1028.8 713.3L1029.6 710.8L1030.3 706.9L1031.0 705.7L1031.6 703.6L1032.2 700.1L1032.7 697.2L1033.2 692.8L1033.8 690.6L1034.3 686.4L1034.8 683.8L1035.3 681.9L1035.8 680.3L1036.2 675.4L1036.7 672.3L1037.1 667.6L1037.6 666.2L1038.0 662.2L1038.5 658.7L1038.9 655.5L1039.4 653.7L1039.8 650.3L1040.3 648.1L1040.7 644.3L1041.2 641.4L1041.6 639.5L1042.1 635.9L1042.5 632.8L1043.0 630.4L1043.4 626.3L1043.9 622.3L1044.4 619.5L1044.8 615.8L1045.3 614.4L1045.8 610.9L1046.3 608.8L1046.7 606.2L1047.2 602.1L1047.7 600.0L1048.2 597.8L1048.7 593.8L1049.2 591.2L1049.7 586.8L1050.1 583.7L1050.5 581.7L1050.9 577.7L1051.3 577.1L1051.7 573.3L1052.1 571.9L1052.5 566.9L1053.0 565.1L1053.4 562.2L1053.8 558.7L1054.3 556.1L1054.7 552.1L1055.1 548.7L1055.6 545.3L1056.0 542.8L1056.4 539.5L1056.8 537.1L1057.2 533.5L1057.5 530.1L1057.9 526.9L1058.2 522.9L1058.6 521.1L1058.9 518.8L1059.1 514.4L1059.4 512.2L1059.7 510.0L1060.0 505.8L1060.2 503.5L1060.5 499.9L1060.7 499.2L1060.9 495.3L1061.2 492.0L1061.4 487.5L1061.6 485.5L1061.8 481.7L1062.0 479.1L1062.2 475.2L1062.4 472.8L1062.6 469.0L1062.8 466.8L1063.0 464.9L1063.2 459.3L1063.4 456.3L1063.6 454.8L1063.8 452.0L1063.9 448.1L1064.1 445.8L1064.3 442.8L1064.5 440.0L1064.6 437.8L1064.8 433.3L1064.9 431.5L1065.1 428.3L1065.2 424.8L1065.4 422.9L1065.5 418.6L1065.6 415.6L1065.8 414.7L1065.9 410.0L1066.1 409.3L1066.2 405.7L1066.4 401.3L1066.5 397.9L1066.7 393.5L1066.9 391.9L1067.1 387.2L1067.3 386.3L1067.5 379.9L1067.7 378.8L1067.8 374.2L1068.0 373.2L1068.1 371.9L1068.3 367.7L1068.4 364.6L1068.6 362.1L1068.8 359.9L1068.9 357.4L1069.1 353.6L1069.3 349.1L1069.4 348.1L1069.6 345.6L1069.8 343.6L1070.0 338.8L1070.2 335.7L1070.3 332.0L1070.5 329.9L1070.7 327.6L1070.9 322.1L1071.1 319.8L1071.3 315.7L1071.5 312.8L1071.7 310.0L1071.9 307.3L1072.1 303.0L1072.3 300.2L1072.5 298.4L1072.7 294.5L1072.9 291.4L1073.1 288.0L1073.3 284.3L1073.5 281.6L1073.7 278.5L1073.9 275.0L1074.1 272.7L1074.3 268.8L1074.6 266.4L1074.8 262.6L1075.0 260.2L1075.2 256.0L1075.4 253.2L1075.6 249.7L1075.9 248.8L1076.1 245.3L1076.3 242.3L1076.5 239.6L1076.8 235.1L1077.1 232.6L1077.3 228.8L1077.6 224.3L1077.9 222.3L1078.2 218.4L1078.4 216.9L1078.7 211.8L1079.0 208.5L1079.3 206.4L1079.6 202.2L1079.9 197.8L1080.2 195.8L1080.5 191.6L1080.8 190.4L1081.1 184.8L1081.4 181.8L1081.7 177.2L1082.0 175.5L1082.3 174.5L1082.6 169.8L1082.9 166.1L1083.2 164.1L1083.5 160.7L1083.8 158.0L1084.1 157.3L1084.4 154.2L1084.7 151.2L1085.0 148.7L1085.2 144.0L1085.7 139.6L1086.1 138.4L1086.5 134.9L1086.9 131.6L1087.4 127.6L1087.8 124.7L1088.3 121.2L1088.7 117.9L1089.2 115.2L1089.7 111.9L1090.3 109.2L1091.0 108.1L1092.2 103.1L1093.5 101.4L1094.9 97.5L1096.9 97.3L1097.6 101.1L1098.2 103.6L1098.8 108.0L1099.2 111.1L1099.4 114.0L1099.6 117.3L1099.8 121.3L1099.9 123.1L1100.1 125.0L1100.3 128.9L1100.5 132.1L1100.7 137.2L1100.9 140.6L1101.1 143.6L1101.4 147.3L1101.6 150.0L1101.7 152.6L1101.9 155.5L1102.1 157.9L1102.3 159.8L1102.5 164.3L1102.7 167.6L1102.9 168.2L1103.1 172.5L1103.3 174.9L1103.5 179.4L1103.7 182.0L1103.9 186.7L1104.2 189.7L1104.4 191.8L1104.6 195.1L1104.9 198.4L1105.1 202.7L1105.3 204.9L1105.6 209.4L1105.8 211.3L1106.1 216.6L1106.3 219.6L1106.6 221.6L1106.8 225.3L1107.1 229.4L1107.4 232.8L1107.6 233.8L1107.9 239.3L1108.1 243.3L1108.3 244.6L1108.6 246.8L1108.8 251.8L1109.1 254.0L1109.3 257.1L1109.6 260.5L1109.9 262.1L1110.1 265.7L1110.4 268.6L1110.7 271.8L1111.0 275.7L1111.3 278.4L1111.6 283.9L1111.9 286.3L1112.2 289.8L1112.5 291.1L1112.8 295.7L1113.1 299.0L1113.4 302.6L1113.7 306.2L1114.0 308.5L1114.3 311.7L1114.6 316.5L1114.9 320.9L1115.2 324.0L1115.5 325.3L1115.8 328.1L1116.1 332.0L1116.4 335.4L1116.7 339.6L1117.0 341.0L1117.3 343.6L1117.6 348.0L1117.8 349.5L1118.1 352.3L1118.4 356.2L1118.7 358.4L1118.9 360.3L1119.2 363.6L1119.5 366.0L1119.8 369.9L1120.2 372.9L1120.6 377.3L1120.9 379.7L1121.3 383.5L1121.7 388.5L1122.1 390.2L1122.5 394.8L1122.8 397.6L1123.2 399.8L1123.5 403.0L1123.9 404.4L1124.3 408.6L1124.7 410.4L1125.2 413.5L1125.6 417.4L1126.1 419.7L1126.6 423.5L1127.1 426.9L1127.6 430.5L1128.2 433.2L1128.7 436.8L1129.3 438.4L1129.9 441.7L1130.6 445.4L1131.3 448.5L1132.1 450.5L1133.1 452.6L1134.3 455.3L1135.6 458.3L1137.0 462.8L1138.4 463.7L1139.9 466.8L1141.4 469.8L1143.4 472.7L1145.5 474.7L1147.6 479.3L1150.0 479.1L1153.3 478.8L1156.8 477.5L1160.0 475.7L1163.2 477.5L1166.0 478.9L1167.9 481.2L1169.5 484.6L1171.7 486.7L1173.1 482.8L1174.5 478.7L1176.7 477.7L1179.5 479.9L1182.4 482.1L1185.4 483.2L1188.0 483.8L1189.5 487.3L1190.1 488.4L1190.6 492.2L1191.0 495.9L1191.4 499.2L1191.9 503.9L1192.7 504.7L1193.4 509.6L1194.3 512.6L1195.2 516.7L1196.1 517.4L1197.0 521.1L1198.0 525.0L1199.0 527.6L1199.9 529.4L1200.8 532.8L1201.5 534.8L1202.3 538.6L1203.1 541.9L1203.9 545.3L1204.7 547.6L1205.5 550.8L1206.3 553.9L1207.1 555.5L1207.9 559.8L1208.7 563.1L1209.5 565.3L1210.2 567.8L1211.0 571.8L1211.7 575.0L1212.3 578.4L1212.9 579.3L1213.5 583.4L1214.0 588.3L1214.6 590.8L1215.1 592.7L1215.6 595.7L1216.1 598.8L1216.6 601.4L1217.1 604.9L1217.6 608.3L1218.0 610.5L1218.5 614.4L1218.9 617.7L1219.4 619.3L1219.8 622.9L1220.3 624.7L1220.7 628.7L1221.2 631.9L1221.7 634.6L1222.2 638.4L1222.7 641.9L1223.1 645.2L1223.6 646.6L1224.0 650.4L1224.5 652.4L1225.0 654.9L1225.5 660.0L1226.0 662.6L1226.7 666.1L1227.3 668.6L1228.0 670.3L1228.8 673.6L1229.5 675.8L1230.2 680.3L1230.9 680.4L1231.4 685.6L1231.9 687.5L1232.3 691.2L1232.8 694.5L1233.2 696.0L1233.6 700.6L1234.0 703.5L1234.4 704.5L1234.8 710.4L1235.2 711.2L1235.7 714.2L1236.2 719.3L1236.7 721.1L1237.2 724.9L1237.8 727.8L1238.4 730.0L1239.0 735.2L1239.7 738.2L1240.4 740.3L1241.1 744.7L1241.8 746.6L1242.5 750.0L1243.3 752.7L1244.0 754.9L1244.8 758.7L1245.6 761.1L1246.4 764.9L1247.1 767.3L1247.9 769.1L1249.4 774.6L1250.9 777.1L1252.4 781.1L1253.9 782.0L1255.3 784.7L1256.6 787.3L1257.8 791.0L1258.9 793.6L1260.0 796.7L1261.2 801.0L1262.6 803.0L1263.9 804.7L1265.4 808.5L1266.9 810.7L1268.7 813.2L1270.7 815.5L1273.2 817.7L1275.9 819.7L1278.9 821.3L1282.1 821.8L1285.3 822.4L1288.0 824.1L1290.8 825.0L1293.7 826.0L1296.7 826.2L1299.8 828.0L1302.8 827.6L1305.8 830.9L1308.9 831.3L1312.1 832.3L1315.4 831.9L1318.8 833.7L1322.0 835.3L1325.1 834.5L1328.0 834.0L1331.0 834.2L1334.0 830.9L1336.8 831.6L1339.6 829.7L1342.7 827.7L1346.0 830.0L1349.4 831.2L1352.6 830.7L1355.8 830.1L1359.0 830.0L1362.0 827.9L1364.5 827.6L1367.0 824.3L1369.0 821.6L1371.1 819.4L1373.0 816.1L1375.0 814.4L1376.9 810.6L1378.5 808.6L1379.7 805.9L1380.8 804.0L1381.9 801.2L1383.0 796.6L1384.1 794.0L1385.2 791.4L1386.3 788.2L1387.2 787.2L1388.1 783.8L1389.0 779.5L1389.8 775.4L1390.7 772.7L1391.5 770.0L1392.3 768.3L1393.1 763.1L1393.9 762.3L1394.7 756.9L1395.5 755.2L1396.2 750.5L1396.7 748.5L1397.2 744.2L1397.6 743.8L1398.1 740.4L1398.5 736.5L1398.9 732.6L1399.3 731.1L1399.8 728.0L1400.2 723.7L1400.5 722.2L1400.9 718.6L1401.3 714.8L1401.7 712.0L1402.0 707.5L1402.4 707.0L1402.7 704.1L1403.1 700.0L1403.4 696.0L1403.7 693.0L1404.0 690.6L1404.3 687.0L1404.6 684.9L1404.9 680.8L1405.3 679.2L1405.6 676.4L1405.8 671.9L1406.1 668.7L1406.4 664.3L1406.7 663.3L1407.0 660.5L1407.3 656.4L1407.5 655.0L1407.8 650.5L1408.2 647.1L1408.5 645.6L1408.8 642.2L1409.2 636.9L1409.5 634.7L1409.8 630.8L1410.2 628.3L1410.5 625.3L1410.9 621.5L1411.3 619.0L1411.8 616.7L1412.2 613.1L1413.0 609.0L1414.1 605.3L1415.4 603.6L1417.8 603.5L1420.0 605.9L1421.3 609.6L1422.0 611.3L1422.8 614.4L1423.5 618.9L1424.2 621.1L1425.0 625.2L1425.5 628.2L1426.0 631.6L1426.4 633.6L1426.8 636.1L1427.2 638.9L1427.6 641.7L1428.0 646.0L1428.4 650.0L1428.8 650.3L1429.2 655.6L1429.6 657.2L1430.0 660.7L1430.4 664.1L1430.8 667.2L1431.2 670.4L1431.6 673.3L1432.0 678.2L1432.5 678.6L1432.9 682.3L1433.4 685.2L1433.8 689.0L1434.3 690.8L1434.7 694.9L1435.2 698.0L1435.6 702.5L1436.1 704.5L1436.5 706.9L1437.0 710.1L1437.5 714.5L1437.9 716.0L1438.4 718.5L1438.8 721.6L1439.3 724.9L1439.7 729.0L1440.1 730.6L1440.6 734.0L1441.0 737.6L1441.4 740.0L1441.8 744.4L1442.3 746.7L1442.7 750.4L1443.1 753.5L1443.6 757.3L1444.1 760.4L1444.6 761.2L1445.1 763.7L1445.6 766.6L1446.3 771.2L1446.9 774.4L1447.6 777.2L1448.3 780.4L1449.0 784.7L1449.7 787.2L1450.5 789.6L1451.3 792.7L1452.1 793.7L1453.0 798.4L1454.0 802.1L1455.3 803.7L1456.7 806.2L1458.1 810.3L1459.6 811.6L1461.2 814.5L1463.3 817.5L1465.5 819.3L1467.9 822.2L1470.6 822.2L1472.9 823.6L1475.4 827.9L1478.0 829.5L1480.8 830.9L1483.5 831.7L1486.2 833.0L1489.4 833.9L1492.6 832.8L1495.8 833.7L1498.9 832.6L1501.9 834.7L1505.2 832.9L1508.4 832.3L1511.4 832.4L1514.5 832.6L1517.6 833.4L1520.6 832.5L1523.8 832.1L1527.0 830.9L1529.9 828.3L1532.5 825.6L1535.6 823.6L1538.9 823.8L1541.6 823.4L1543.7 819.3L1545.8 816.7L1547.8 814.1L1549.8 811.3L1551.7 811.2L1553.6 809.3L1555.4 805.8L1557.1 802.9L1558.6 801.1L1559.8 798.0L1560.9 792.4L1562.0 791.0L1563.0 789.8L1564.1 784.3L1565.1 781.2L1566.1 778.4L1567.1 777.2L1568.2 772.6L1569.2 770.2L1570.1 767.8L1570.9 764.0L1571.6 760.8L1572.2 757.0L1572.7 753.8L1573.1 752.7L1573.5 747.8L1574.0 746.7L1574.4 743.9L1575.0 741.2L1575.7 736.9L1576.5 733.7L1577.3 731.8L1578.2 730.1L1579.0 726.5L1579.9 723.2L1580.5 719.8L1581.1 717.1L1581.5 712.4L1582.0 710.4L1582.4 709.8L1582.8 706.1L1583.2 703.4L1583.6 698.3L1584.0 696.1L1584.4 693.2L1584.8 690.3L1585.2 688.1L1585.6 683.4L1585.9 680.7L1586.3 676.7L1586.7 673.8L1587.1 670.9L1587.5 667.7L1587.9 664.8L1588.3 659.8L1588.6 658.6L1589.0 655.4L1589.3 651.5L1589.6 650.1L1590.0 645.5L1590.3 642.6L1590.6 640.2L1590.9 637.7L1591.3 633.1L1591.6 631.4L1591.9 627.3L1592.2 623.2L1592.5 621.2L1592.9 617.4L1593.2 613.6L1593.5 610.9L1593.9 608.9L1594.2 605.0L1594.5 601.5L1594.9 599.3L1595.2 594.6L1595.6 593.3L1596.0 590.9L1596.3 586.2L1596.7 583.5L1597.1 581.0L1597.6 578.5L1598.1 574.5L1598.7 571.6L1599.3 567.2L1599.8 564.7L1600.4 561.4L1601.0 558.0L1601.6 553.9L1602.3 551.8L1602.9 547.0L1603.5 544.9L1604.1 542.9L1605.1 540.6L1606.0 536.7L1607.7 534.0L1610.3 533.7L1612.2 536.6L1613.3 539.2L1614.1 540.0L1614.7 544.4L1615.1 547.2L1615.5 550.2L1615.8 553.1L1616.2 555.9L1616.5 559.3L1616.8 561.7L1617.1 566.8L1617.4 570.1L1617.7 572.9L1618.0 578.3L1618.4 580.4L1618.7 582.5L1618.9 586.2L1619.2 588.8L1619.5 591.8L1619.7 594.1L1620.0 597.8L1620.3 600.3L1620.5 604.2L1620.8 606.6L1621.1 608.8L1621.3 611.8L1621.6 616.3L1621.8 619.7L1622.1 621.1L1622.4 625.9L1622.6 628.6L1622.9 632.1L1623.2 634.4L1623.4 637.3L1623.7 640.9L1624.0 643.8L1624.2 647.2L1624.5 650.7L1624.8 653.6L1625.1 658.0L1625.4 658.7L1625.7 662.1L1626.0 665.7L1626.3 669.3L1626.7 671.2L1627.0 674.1L1627.4 678.5L1627.7 681.8L1628.1 685.0L1628.4 688.1L1628.8 689.5L1629.1 694.6L1629.5 696.6L1629.8 701.4L1630.2 702.4L1630.5 703.9L1630.9 708.4L1631.2 711.5L1631.6 714.4L1632.0 717.1L1632.3 719.2L1632.7 721.3L1633.1 725.7L1633.5 728.8L1634.0 731.7L1634.4 735.3L1634.8 738.1L1635.2 739.7L1635.6 743.6L1636.0 746.5L1636.5 749.9L1636.9 754.2L1637.4 755.7L1637.9 759.0L1638.5 759.7L1639.2 765.5L1639.9 767.3L1640.5 771.4L1641.3 773.2L1642.0 777.1L1642.8 780.8L1643.6 783.1L1644.5 786.2L1645.5 788.2L1646.6 790.9L1647.9 794.7L1649.4 797.3L1650.9 800.5L1652.5 802.6L1654.2 805.5L1655.9 808.8L1657.7 811.6L1659.7 812.5L1662.2 814.6L1664.7 817.2L1667.2 819.7L1669.6 821.0L1672.1 823.6L1674.6 824.9L1677.2 826.2L1680.2 826.4L1683.6 828.5L1687.0 827.8L1690.0 827.5L1692.2 830.3L1694.1 831.8L1696.7 835.4L1700.2 835.7L1703.0 835.4L1706.1 833.5L1709.3 834.1L1712.7 832.7L1716.0 832.3L1719.1 828.8L1721.9 830.2L1725.2 830.0L1728.3 828.3L1731.3 828.9L1734.2 827.7L1737.1 827.9L1739.9 825.4L1742.6 824.2L1745.3 821.6L1747.9 822.2L1750.5 818.0L1752.9 815.8L1755.3 813.8L1757.5 812.4L1759.5 810.0L1761.4 807.8L1763.3 806.2L1765.3 803.4L1767.5 799.3L1770.0 798.7L1772.7 796.7L1775.6 796.0L1778.6 794.2L1781.6 793.9L1784.6 791.6L1787.5 791.7L1790.1 787.8L1792.7 787.6L1795.1 785.4L1797.5 782.2L1800.0 780.0L1802.5 779.2L1805.3 779.3L1808.3 780.2L1811.4 777.9L1814.5 779.4L1817.7 779.2L1820.8 781.4L1823.9 781.4L1827.0 781.7L1830.1 782.8L1833.2 783.0L1836.1 784.6L1839.0 784.1L1842.2 785.0L1845.2 786.8L1848.2 788.2L1851.0 791.0L1853.6 791.7L1855.7 793.9L1857.8 796.3L1859.8 798.8L1861.9 800.5L1864.2 804.5L1866.5 806.8L1869.0 808.5L1871.6 809.7L1874.2 812.9L1876.9 814.4L1879.6 815.7L1882.4 817.5L1885.3 818.2L1888.2 819.8L1891.2 821.0L1894.3 820.7L1897.6 822.4L1900.3 823.3L1903.1 825.3L1906.1 824.1L1909.1 827.5L1912.1 828.3L1915.2 829.2L1918.2 830.5L1921.3 829.8L1924.3 831.6L1927.4 831.1L1930.5 831.3L1933.6 832.8L1936.7 831.3L1939.8 832.2L1943.0 831.2L1946.2 831.0L1949.4 831.0L1952.3 830.3L1955.4 831.3L1958.6 831.9L1961.8 833.1L1965.0 832.9L1968.1 833.1L1971.3 831.9L1974.3 832.2L1977.2 833.2L1980.0 833.3L1983.3 832.0L1986.5 833.4L1989.5 831.8L1992.5 832.2L1995.5 831.3L1998.5 832.0L2001.5 831.9L2004.5 831.8L2007.4 830.1L2010.3 830.8L2013.3 832.3L2016.5 830.4L2020.0 830.7L2022.6 830.4L2025.4 829.8L2028.3 831.5L2031.3 831.4L2034.4 829.7L2037.5 830.6L2040.8 831.7L2044.0 830.6L2047.2 830.3L2050.5 831.1L2053.7 830.9L2056.9 829.4L2060.0 829.7L2063.1 831.6L2066.2 829.9L2069.2 830.3L2072.3 829.8L2075.4 831.8L2078.5 829.3L2081.5 830.4L2084.6 829.9L2087.7 830.0L2090.8 829.3L2093.8 829.6L2096.9 830.1L2100.0 830.5L2103.1 828.9L2106.2 830.5L2109.3 829.8L2112.5 830.5L2115.6 830.2L2118.8 830.6L2121.9 830.5L2125.0 831.2L2128.1 830.9L2131.2 829.7L2134.2 829.2L2137.1 830.1L2140.0 831.5L2143.2 830.1L2146.3 830.8L2149.3 833.2L2152.3 831.6L2155.3 831.9L2158.2 832.5L2161.1 833.0L2164.1 832.2L2167.0 832.9L2170.0 831.4L2173.0 833.5L2175.9 833.9L2178.9 832.3L2181.8 834.7L2184.7 835.7L2187.7 832.4L2190.7 834.5L2193.7 835.9L2196.8 835.5L2200.0 834.4L2202.9 834.5L2205.9 834.6L2209.0 835.3L2212.1 833.9L2215.2 833.2L2218.4 834.2L2221.6 833.3L2224.8 835.0L2227.9 832.6L2231.0 833.5L2234.1 832.9L2237.1 831.8L2240.0 832.6L2243.2 831.5L2246.2 833.6L2249.2 832.8L2252.1 832.9L2255.0 832.9L2257.9 835.6L2260.8 835.2L2263.8 834.2L2266.9 834.9L2270.0 835.5L2272.9 835.3L2276.0 834.5L2279.1 832.4L2282.3 834.8L2285.6 832.8L2288.9 833.3L2292.1 830.6L2295.4 831.6L2298.5 831.4L2301.6 830.8L2304.5 828.5L2307.4 828.9L2310.0 830.2L2313.4 828.4L2316.7 829.8L2319.7 829.5L2322.6 828.9L2325.5 831.3L2328.5 831.8L2331.5 831.6L2334.6 831.3L2337.7 831.9L2340.8 829.5L2343.8 831.0L2346.9 832.4L2350.0 831.4L2350.0 831.0" stroke="#ff0000" stroke-width="11"/>
<path d="M192.0 1645.0L193.9 1647.8L195.8 1649.5L197.8 1652.6L200.0 1655.7L201.9 1657.5L203.9 1660.6L206.1 1661.0L208.3 1664.1L210.6 1665.9L212.9 1668.2L215.1 1671.0L217.2 1673.5L219.4 1676.0L221.6 1678.4L223.8 1682.1L226.0 1683.2L228.1 1683.3L230.2 1686.6L232.7 1687.8L235.7 1689.6L238.5 1692.5L241.2 1693.0L243.7 1694.3L245.9 1699.1L248.1 1700.7L251.8 1699.1L254.2 1696.3L255.8 1693.7L257.3 1690.8L258.2 1687.7L259.0 1685.2L259.8 1683.4L260.6 1678.0L261.4 1674.7L262.1 1671.8L262.9 1669.6L263.7 1665.1L264.4 1664.0L265.0 1658.8L265.7 1656.1L266.4 1653.9L267.0 1650.2L267.7 1647.3L268.3 1645.1L269.0 1642.3L269.6 1638.7L270.3 1635.3L271.0 1633.6L271.6 1629.8L272.3 1626.3L273.0 1624.6L273.7 1620.0L274.4 1617.9L275.1 1615.4L275.8 1611.9L276.5 1608.5L277.1 1606.2L277.8 1602.4L278.5 1599.2L279.1 1595.6L279.6 1594.5L280.1 1590.2L280.6 1588.8L281.1 1585.3L281.6 1581.9L282.1 1579.7L282.5 1576.4L283.0 1573.3L283.4 1569.0L283.9 1567.1L284.3 1564.7L284.8 1561.3L285.2 1558.5L285.6 1555.8L286.0 1551.8L286.4 1550.0L286.8 1544.0L287.2 1542.0L287.6 1537.1L287.9 1536.8L288.3 1533.2L288.6 1531.4L288.9 1526.7L289.3 1522.3L289.6 1521.8L289.9 1516.6L290.2 1513.6L290.5 1511.3L290.8 1508.8L291.1 1504.8L291.3 1502.3L291.6 1497.6L291.9 1497.5L292.2 1493.1L292.5 1490.3L292.7 1487.7L293.0 1484.6L293.3 1481.8L293.6 1477.9L293.9 1475.1L294.2 1472.2L294.5 1469.4L294.8 1465.2L295.1 1462.1L295.3 1459.1L295.6 1456.2L295.9 1452.9L296.2 1449.6L296.5 1446.5L296.9 1445.1L297.2 1441.7L297.7 1438.4L298.2 1436.8L298.7 1432.1L299.2 1428.8L299.8 1425.3L300.5 1421.6L301.4 1420.9L303.4 1416.0L305.5 1413.4L307.6 1414.9L308.6 1417.3L309.5 1420.1L310.4 1423.9L311.1 1429.7L311.7 1431.7L312.2 1434.1L312.5 1438.1L312.8 1440.4L313.1 1443.2L313.3 1446.7L313.5 1449.5L313.7 1454.0L313.9 1455.8L314.1 1459.1L314.3 1463.2L314.5 1465.1L314.7 1469.7L314.9 1472.1L315.1 1476.4L315.4 1478.0L315.6 1482.1L315.9 1483.4L316.2 1487.2L316.4 1490.5L316.7 1493.9L317.0 1498.1L317.3 1501.0L317.6 1501.4L317.9 1504.9L318.2 1509.6L318.5 1512.0L318.9 1513.6L319.2 1518.1L319.5 1519.9L319.8 1523.2L320.1 1525.9L320.4 1529.8L320.7 1534.8L321.0 1536.4L321.3 1539.0L321.7 1544.1L322.0 1544.8L322.3 1548.0L322.6 1551.0L322.9 1554.6L323.2 1557.1L323.5 1561.5L323.8 1563.2L324.1 1566.9L324.4 1569.7L324.7 1571.9L325.0 1574.8L325.3 1578.6L325.6 1579.8L325.9 1584.7L326.2 1587.7L326.5 1590.7L326.8 1593.5L327.1 1596.7L327.4 1599.1L327.8 1602.9L328.1 1604.3L328.5 1609.5L328.8 1611.2L329.2 1615.5L329.5 1617.9L329.9 1621.0L330.2 1623.8L330.6 1628.6L330.9 1629.8L331.3 1632.7L331.7 1636.8L332.0 1639.8L332.4 1642.6L332.8 1644.6L333.2 1647.7L333.6 1651.7L334.1 1653.4L334.5 1657.9L334.9 1661.2L335.3 1663.8L335.7 1665.8L336.1 1671.2L336.6 1672.8L337.1 1675.7L337.7 1678.1L338.4 1680.4L339.2 1683.7L340.1 1686.9L341.3 1689.3L342.5 1693.2L343.8 1697.1L345.2 1699.5L346.7 1701.9L348.3 1705.5L350.0 1707.8L351.7 1710.0L354.0 1711.1L356.4 1712.4L359.0 1716.4L361.7 1717.4L364.4 1718.4L367.2 1720.2L370.3 1719.9L373.5 1719.9L376.7 1722.1L379.8 1720.0L382.7 1723.4L385.4 1725.5L388.2 1728.2L391.0 1728.7L393.8 1729.8L396.9 1728.5L400.1 1728.3L403.2 1725.3L406.4 1725.4L409.4 1725.0L412.5 1724.2L415.4 1723.2L418.4 1724.2L421.5 1722.4L424.5 1724.7L427.6 1725.7L430.6 1727.6L433.6 1728.9L436.6 1731.5L439.6 1730.3L442.6 1733.2L445.6 1733.4L448.2 1731.5L450.8 1729.7L453.5 1727.4L456.3 1726.1L459.3 1727.1L462.1 1723.1L465.0 1724.8L468.0 1723.7L471.1 1725.6L474.2 1724.2L477.3 1722.6L480.3 1722.9L483.4 1722.9L486.5 1722.2L489.5 1720.8L492.6 1720.8L495.5 1720.3L498.3 1721.0L501.5 1721.3L504.6 1722.3L507.5 1722.7L510.5 1724.2L513.3 1722.7L515.9 1721.2L518.5 1719.8L521.0 1717.8L523.6 1715.8L526.3 1712.8L529.1 1714.2L532.3 1712.9L535.6 1713.0L538.8 1711.1L541.8 1711.1L544.3 1709.2L546.5 1707.2L548.4 1706.4L550.2 1702.1L552.1 1700.5L554.0 1696.1L555.9 1695.5L557.9 1692.7L559.9 1689.6L561.9 1687.5L563.9 1683.8L565.9 1682.2L567.9 1680.6L569.7 1676.0L571.5 1676.3L573.1 1673.5L574.7 1669.3L576.2 1665.8L577.7 1663.1L579.1 1660.6L580.7 1658.6L582.3 1658.8L584.6 1653.7L586.9 1653.0L589.3 1651.6L592.0 1648.5L594.8 1648.5L597.9 1649.3L601.0 1648.4L604.2 1649.7L607.0 1649.5L609.7 1646.5L612.4 1644.2L615.1 1643.5L617.6 1641.2L620.1 1638.1L622.3 1636.4L624.4 1634.3L626.3 1632.1L628.2 1630.0L630.0 1626.0L631.7 1622.5L633.4 1619.5L635.0 1619.6L636.6 1614.9L638.0 1611.9L639.4 1611.1L640.7 1607.0L642.0 1605.1L643.3 1600.6L644.7 1598.0L647.0 1595.0L649.3 1593.8L652.5 1594.1L654.5 1595.9L656.6 1600.0L658.6 1602.3L660.4 1603.5L661.4 1607.1L662.3 1609.8L663.1 1611.5L663.8 1617.0L664.5 1619.0L665.1 1622.8L665.7 1624.5L666.3 1627.3L666.9 1632.0L667.5 1634.4L668.2 1637.1L669.0 1640.6L669.7 1643.8L670.5 1646.8L671.2 1649.5L672.0 1653.0L672.8 1657.5L673.6 1659.4L674.4 1660.9L675.2 1665.8L676.0 1666.5L676.9 1668.8L677.8 1672.0L678.6 1674.5L679.5 1680.1L680.4 1681.2L681.4 1683.8L682.6 1687.2L683.8 1690.1L685.3 1692.0L687.0 1695.2L688.7 1698.2L690.6 1701.1L692.5 1702.1L694.5 1705.4L696.6 1707.3L699.0 1709.7L701.5 1710.9L704.0 1712.2L706.6 1715.4L709.2 1716.2L712.2 1715.6L715.2 1715.2L718.3 1716.0L721.3 1717.0L724.2 1716.5L726.9 1720.0L729.6 1720.5L732.3 1722.7L735.1 1724.4L738.0 1725.5L741.0 1723.3L744.1 1723.9L747.2 1723.8L750.5 1720.6L753.5 1721.4L756.5 1721.3L759.5 1721.7L762.5 1721.0L765.6 1719.2L768.6 1720.2L771.6 1716.7L774.4 1715.3L777.2 1716.1L780.0 1714.1L782.7 1711.0L785.5 1711.3L788.3 1709.7L791.1 1708.5L794.1 1706.7L797.1 1705.3L800.1 1704.4L803.1 1705.2L806.2 1704.7L809.2 1703.9L812.2 1703.2L815.2 1703.3L818.2 1700.5L821.2 1699.7L824.2 1700.9L827.1 1698.4L830.0 1698.6L832.5 1700.9L835.0 1700.1L837.4 1704.9L839.8 1704.8L842.2 1707.6L844.6 1709.5L847.0 1711.8L849.5 1713.5L852.5 1716.3L855.6 1716.6L858.7 1718.8L861.8 1719.1L865.0 1718.0L868.2 1719.4L871.2 1718.9L874.3 1718.6L877.4 1718.3L880.6 1717.8L883.7 1717.2L886.7 1714.9L889.7 1716.7L892.7 1717.4L895.6 1720.9L898.4 1721.1L901.2 1723.2L904.0 1724.9L906.9 1726.5L909.8 1725.1L912.7 1725.2L915.6 1723.8L918.6 1722.2L921.5 1720.2L924.4 1718.3L927.2 1717.5L929.9 1715.7L933.1 1718.3L936.1 1718.0L939.0 1717.6L941.8 1719.4L944.6 1719.8L947.1 1717.6L949.6 1715.8L952.1 1712.0L954.6 1712.5L957.0 1708.8L959.3 1704.4L961.0 1703.5L962.6 1702.7L964.1 1699.4L965.6 1695.3L967.1 1693.3L968.6 1691.2L970.0 1689.8L971.4 1685.4L972.7 1682.9L974.1 1679.2L975.4 1676.6L976.6 1673.0L977.9 1670.0L979.0 1667.2L980.1 1665.1L981.3 1663.7L982.3 1659.9L983.4 1658.0L984.5 1654.7L985.6 1651.2L986.6 1647.6L987.7 1646.6L988.8 1642.6L989.7 1640.1L990.6 1638.4L991.5 1634.9L992.4 1631.1L993.2 1628.4L994.1 1625.7L995.0 1624.1L995.9 1618.6L996.8 1614.9L997.7 1613.0L998.6 1610.4L999.4 1607.0L1000.3 1605.2L1001.2 1601.9L1002.0 1598.4L1002.9 1595.5L1003.7 1594.0L1004.5 1591.2L1005.3 1588.0L1006.1 1583.3L1006.9 1581.6L1007.7 1576.6L1008.4 1572.9L1009.2 1572.7L1009.9 1568.9L1010.7 1565.7L1011.4 1563.2L1012.1 1560.3L1012.8 1556.1L1013.5 1553.1L1014.3 1550.4L1015.0 1547.7L1015.7 1544.3L1016.4 1540.2L1017.2 1540.6L1017.9 1535.3L1018.8 1532.5L1019.7 1530.3L1020.7 1526.7L1021.7 1524.3L1022.6 1522.9L1023.6 1519.3L1024.5 1515.0L1025.5 1512.9L1026.5 1509.8L1027.5 1507.9L1028.5 1503.2L1029.5 1500.3L1030.4 1497.0L1031.4 1496.0L1032.3 1493.2L1033.3 1490.7L1034.3 1488.1L1035.4 1483.6L1036.4 1481.5L1037.4 1478.0L1038.3 1477.0L1039.3 1473.7L1040.2 1468.9L1041.1 1467.4L1042.0 1463.9L1042.7 1461.0L1043.4 1458.7L1044.0 1454.8L1044.6 1452.2L1045.1 1449.0L1045.7 1446.0L1046.2 1442.7L1046.7 1441.5L1047.2 1437.9L1047.7 1434.2L1048.2 1429.9L1048.7 1429.9L1049.2 1425.0L1049.6 1422.0L1050.1 1419.3L1050.6 1417.0L1051.1 1412.3L1051.5 1407.6L1052.1 1406.3L1052.6 1403.5L1053.1 1400.2L1053.7 1398.7L1054.3 1394.1L1054.9 1391.7L1055.5 1387.7L1056.1 1385.9L1056.7 1381.8L1057.3 1380.0L1057.9 1376.4L1058.5 1373.4L1059.1 1370.6L1059.8 1366.1L1060.4 1364.1L1061.0 1361.7L1061.5 1358.3L1062.1 1356.6L1062.7 1353.5L1063.3 1349.3L1063.8 1348.0L1064.4 1343.7L1065.0 1341.1L1065.6 1338.5L1066.1 1333.4L1066.7 1330.5L1067.3 1327.9L1067.8 1324.6L1068.4 1320.4L1068.9 1319.2L1069.4 1315.7L1069.9 1312.8L1070.5 1310.0L1070.9 1307.5L1071.4 1303.4L1071.9 1301.7L1072.5 1297.8L1073.0 1294.7L1073.5 1291.4L1074.0 1290.2L1074.5 1284.4L1075.0 1282.9L1075.5 1281.2L1076.0 1277.3L1076.6 1273.9L1077.1 1272.4L1077.6 1267.9L1078.1 1265.3L1078.6 1262.7L1079.1 1258.7L1079.6 1255.5L1080.1 1252.7L1080.7 1250.3L1081.3 1245.6L1082.0 1243.8L1082.7 1240.5L1083.5 1237.5L1084.4 1234.3L1085.7 1233.3L1087.2 1228.8L1088.8 1225.1L1090.5 1221.5L1092.2 1220.6L1094.6 1216.6L1096.8 1217.0L1098.4 1219.2L1099.9 1222.7L1101.3 1226.5L1102.7 1228.3L1104.1 1233.8L1105.2 1236.8L1106.1 1240.2L1106.9 1242.0L1107.7 1246.4L1108.4 1249.9L1109.1 1251.0L1109.8 1254.4L1110.4 1258.5L1111.1 1261.8L1111.8 1263.8L1112.5 1267.5L1113.3 1268.5L1114.0 1273.7L1114.6 1276.5L1115.3 1280.0L1116.0 1282.7L1116.8 1285.6L1117.7 1287.3L1118.8 1291.1L1120.5 1291.6L1122.5 1296.5L1124.6 1298.1L1127.5 1300.7L1129.3 1296.3L1131.0 1294.3L1132.8 1290.5L1134.4 1287.6L1135.5 1284.5L1136.5 1280.9L1137.5 1278.8L1138.5 1276.9L1139.4 1273.4L1140.4 1269.1L1141.3 1265.5L1142.3 1262.3L1143.3 1260.2L1144.2 1257.1L1145.2 1253.9L1146.2 1250.7L1147.2 1248.1L1148.2 1245.9L1149.2 1242.5L1150.2 1238.4L1151.2 1236.5L1152.1 1232.9L1153.1 1231.6L1154.5 1227.5L1155.9 1223.5L1157.2 1221.1L1158.7 1218.2L1161.5 1219.5L1163.0 1222.6L1164.5 1224.0L1165.9 1228.3L1167.2 1231.9L1168.0 1235.4L1168.7 1237.4L1169.3 1239.1L1169.9 1242.5L1170.5 1246.0L1171.0 1248.9L1171.5 1252.1L1171.9 1254.5L1172.4 1259.0L1172.8 1261.0L1173.2 1264.8L1173.6 1267.6L1174.0 1270.9L1174.3 1275.3L1174.6 1276.8L1174.9 1279.7L1175.1 1281.0L1175.4 1285.3L1175.6 1289.2L1175.8 1291.9L1176.1 1295.9L1176.4 1298.2L1176.6 1302.1L1176.9 1304.6L1177.1 1308.2L1177.4 1310.1L1177.7 1314.1L1177.9 1316.1L1178.2 1319.0L1178.5 1323.6L1178.7 1324.7L1179.0 1328.2L1179.3 1333.5L1179.5 1335.4L1179.8 1338.7L1180.0 1341.7L1180.3 1344.6L1180.6 1349.3L1180.8 1350.8L1181.1 1355.0L1181.3 1356.9L1181.6 1359.5L1181.8 1362.9L1182.1 1366.2L1182.3 1371.3L1182.6 1371.9L1182.8 1375.8L1183.1 1377.3L1183.4 1382.1L1183.6 1384.6L1183.9 1388.1L1184.1 1390.9L1184.4 1393.6L1184.7 1397.1L1184.9 1400.1L1185.2 1404.0L1185.4 1406.2L1185.7 1409.2L1186.0 1411.4L1186.2 1416.2L1186.5 1418.4L1186.8 1420.9L1187.0 1425.7L1187.3 1428.5L1187.6 1430.8L1187.9 1434.0L1188.2 1435.9L1188.5 1438.2L1188.8 1443.3L1189.1 1445.0L1189.4 1449.8L1189.7 1452.1L1190.1 1455.7L1190.4 1458.1L1190.7 1462.0L1191.0 1465.3L1191.4 1467.9L1191.7 1471.5L1192.1 1474.6L1192.4 1476.9L1192.8 1478.8L1193.1 1483.7L1193.5 1485.8L1193.8 1488.5L1194.2 1490.9L1194.5 1494.1L1194.9 1499.7L1195.2 1503.1L1195.6 1505.8L1196.0 1509.5L1196.4 1509.4L1196.8 1514.6L1197.2 1516.0L1197.7 1519.0L1198.2 1523.7L1198.6 1527.0L1199.2 1528.5L1199.7 1531.0L1200.2 1534.1L1200.8 1538.2L1201.4 1542.1L1202.0 1546.0L1202.6 1547.8L1203.2 1549.7L1203.8 1552.6L1204.5 1556.5L1205.1 1559.9L1205.7 1560.6L1206.4 1565.3L1207.0 1567.4L1207.7 1571.5L1208.4 1572.6L1209.1 1577.8L1209.8 1581.2L1210.5 1584.1L1211.2 1587.2L1211.9 1588.9L1212.6 1591.8L1213.4 1593.6L1214.1 1597.3L1214.9 1599.4L1215.7 1603.3L1216.6 1606.5L1217.4 1609.0L1218.3 1613.7L1219.1 1614.6L1220.0 1618.3L1221.0 1623.0L1222.1 1624.1L1223.3 1627.1L1225.9 1627.7L1228.5 1632.6L1231.4 1632.0L1234.4 1632.9L1237.4 1635.2L1240.7 1635.0L1244.0 1634.1L1247.0 1638.1L1249.4 1639.1L1250.8 1642.1L1252.0 1644.7L1253.3 1648.0L1254.5 1651.1L1255.8 1654.2L1257.3 1656.9L1259.0 1661.9L1261.1 1662.6L1263.3 1665.3L1265.5 1666.6L1267.8 1670.8L1269.9 1672.2L1271.8 1674.2L1273.5 1676.3L1275.0 1680.3L1276.2 1681.2L1277.3 1685.0L1278.5 1688.2L1280.0 1691.5L1281.8 1693.9L1283.7 1694.9L1285.9 1698.9L1288.1 1700.3L1290.5 1702.3L1292.8 1705.0L1295.2 1706.7L1297.5 1708.7L1299.8 1711.1L1302.1 1714.3L1304.4 1716.1L1306.8 1718.3L1309.2 1719.2L1311.7 1721.7L1314.7 1721.1L1317.7 1719.9L1320.9 1720.4L1324.0 1717.6L1327.1 1717.7L1330.2 1719.3L1333.4 1719.3L1336.6 1720.4L1339.7 1720.9L1342.5 1720.8L1344.7 1719.9L1346.8 1718.0L1348.8 1714.5L1350.6 1711.9L1352.5 1707.9L1354.3 1706.3L1356.2 1704.5L1358.0 1701.6L1359.7 1699.8L1361.4 1695.9L1363.1 1693.6L1365.0 1691.6L1367.0 1687.6L1369.3 1687.5L1371.9 1683.1L1374.7 1681.9L1377.6 1678.8L1380.5 1678.5L1383.3 1676.8L1386.1 1677.9L1389.0 1675.9L1391.9 1678.9L1394.7 1680.3L1397.5 1682.3L1400.2 1684.6L1402.6 1686.5L1404.8 1687.2L1406.9 1690.7L1409.0 1692.1L1411.0 1694.8L1413.0 1697.7L1414.9 1700.1L1416.9 1702.4L1418.9 1706.2L1420.7 1707.9L1422.5 1708.9L1424.4 1712.2L1426.4 1714.7L1428.5 1719.1L1430.9 1719.4L1433.4 1720.5L1436.1 1722.9L1439.0 1722.2L1441.9 1726.6L1444.8 1726.4L1447.5 1726.9L1450.0 1729.1L1453.3 1728.6L1456.3 1728.7L1459.4 1730.3L1462.5 1731.4L1465.3 1729.8L1468.3 1730.1L1471.4 1730.2L1474.6 1730.6L1477.8 1729.9L1480.9 1730.1L1483.9 1728.9L1487.0 1728.6L1490.0 1728.3L1493.0 1725.2L1496.0 1725.9L1499.0 1725.7L1502.1 1723.1L1505.1 1723.0L1508.2 1723.6L1511.3 1724.0L1514.4 1723.8L1517.5 1726.0L1520.5 1726.2L1523.4 1726.6L1526.3 1725.8L1529.3 1723.8L1532.2 1722.9L1535.1 1721.1L1537.8 1721.9L1540.5 1717.7L1543.0 1716.9L1545.2 1715.5L1547.5 1712.2L1549.6 1710.3L1551.7 1708.2L1553.7 1706.8L1555.7 1702.4L1557.6 1701.2L1559.5 1699.1L1561.4 1696.8L1563.1 1693.5L1564.8 1692.4L1566.4 1689.3L1567.8 1685.4L1568.9 1683.0L1569.9 1682.8L1570.9 1678.0L1571.9 1674.4L1572.8 1673.0L1573.8 1668.8L1574.7 1666.5L1575.6 1663.8L1576.5 1659.6L1577.3 1656.1L1578.2 1655.7L1579.0 1650.4L1579.7 1647.6L1580.5 1645.5L1581.2 1642.9L1581.9 1639.4L1582.6 1635.7L1583.4 1634.1L1584.1 1629.4L1584.8 1626.6L1585.5 1624.8L1586.2 1622.2L1586.9 1618.9L1587.7 1616.5L1588.4 1613.5L1589.4 1610.4L1590.3 1605.8L1591.1 1602.4L1592.0 1600.2L1593.0 1597.4L1594.0 1593.4L1595.0 1590.5L1596.2 1588.7L1598.0 1587.1L1600.4 1583.4L1603.0 1581.3L1605.4 1580.9L1607.8 1582.6L1609.4 1585.6L1610.9 1587.9L1612.4 1591.7L1613.9 1595.1L1615.3 1598.2L1616.5 1601.8L1617.5 1604.6L1618.5 1605.8L1619.5 1610.2L1620.4 1613.2L1621.3 1615.9L1622.2 1618.2L1623.1 1621.6L1623.9 1625.7L1624.8 1627.6L1625.7 1632.2L1626.6 1634.1L1627.5 1637.5L1628.3 1638.2L1629.1 1643.6L1629.9 1646.3L1630.7 1647.9L1631.6 1652.9L1632.4 1654.7L1633.2 1657.1L1634.1 1662.0L1634.9 1664.8L1635.8 1667.3L1636.7 1669.8L1637.8 1672.8L1639.0 1673.6L1640.1 1677.7L1641.4 1681.8L1642.6 1683.9L1643.9 1686.2L1645.2 1688.5L1646.5 1691.0L1647.8 1693.2L1649.3 1696.6L1650.8 1697.6L1652.3 1703.2L1653.8 1705.1L1655.5 1705.6L1657.4 1709.8L1659.7 1711.9L1662.5 1713.2L1665.5 1715.1L1668.7 1716.2L1671.7 1717.0L1674.8 1716.4L1677.9 1717.1L1680.9 1719.1L1684.2 1721.5L1687.3 1720.3L1690.2 1722.6L1693.3 1723.9L1696.5 1725.6L1699.7 1725.6L1702.8 1728.1L1705.7 1727.7L1708.4 1728.0L1710.8 1725.9L1713.0 1723.7L1715.2 1722.1L1717.3 1719.9L1719.6 1717.1L1722.0 1714.4L1724.8 1714.2L1727.8 1714.1L1730.9 1713.4L1734.0 1713.6L1737.0 1712.6L1740.0 1710.4L1742.7 1711.1L1745.4 1708.4L1748.0 1706.6L1750.6 1704.4L1753.2 1701.4L1755.7 1698.9L1758.1 1699.1L1760.6 1697.4L1762.9 1695.7L1765.1 1691.5L1767.4 1690.1L1769.7 1687.9L1772.2 1687.4L1775.1 1685.5L1778.2 1685.3L1781.4 1684.8L1784.4 1685.6L1787.3 1685.9L1789.7 1682.8L1791.7 1681.3L1793.6 1680.3L1795.2 1675.8L1796.9 1671.9L1798.5 1669.9L1800.3 1668.7L1802.2 1665.6L1804.0 1662.3L1805.8 1660.0L1807.7 1659.1L1809.8 1654.8L1812.0 1655.1L1814.7 1651.8L1817.7 1650.8L1820.8 1648.0L1823.9 1647.0L1826.9 1649.0L1829.9 1647.0L1832.8 1647.2L1835.6 1649.8L1838.4 1650.6L1841.2 1652.3L1843.6 1654.2L1845.9 1656.4L1848.1 1660.0L1850.2 1659.9L1852.3 1663.9L1854.5 1664.6L1856.6 1668.6L1858.8 1669.9L1861.0 1673.0L1863.1 1674.5L1865.3 1677.6L1867.5 1679.6L1869.6 1681.5L1871.7 1683.8L1873.8 1685.0L1876.0 1687.2L1878.0 1688.9L1880.2 1692.1L1882.3 1694.2L1884.2 1696.1L1886.1 1697.9L1888.0 1701.4L1890.0 1704.5L1892.0 1707.2L1894.1 1708.2L1896.4 1710.9L1899.2 1710.4L1902.2 1711.4L1905.4 1711.0L1908.5 1712.0L1911.4 1711.5L1914.2 1712.6L1916.8 1715.8L1919.3 1717.7L1921.8 1717.3L1924.5 1720.5L1927.3 1720.4L1930.3 1719.9L1933.5 1717.9L1936.6 1718.6L1939.5 1717.6L1942.3 1716.6L1944.9 1717.4L1947.3 1720.0L1949.8 1723.1L1952.6 1726.3L1955.3 1724.5L1958.3 1727.5L1961.5 1728.7L1964.7 1730.0L1967.9 1731.4L1970.9 1732.3L1973.7 1731.5L1976.5 1731.6L1979.2 1728.7L1981.6 1726.4L1984.1 1724.0L1986.5 1720.5L1989.3 1722.0L1992.1 1720.7L1995.0 1722.7L1998.0 1723.7L2001.0 1724.0L2004.1 1725.4L2007.2 1725.0L2010.4 1727.2L2013.6 1726.6L2016.6 1725.5L2019.6 1724.9L2022.7 1723.5L2025.7 1721.8L2028.6 1719.5L2031.6 1721.2L2034.5 1721.7L2037.4 1724.0L2040.4 1725.4L2043.3 1725.5L2046.1 1726.1L2048.9 1727.2L2051.9 1727.7L2054.8 1728.6L2057.8 1728.7L2060.7 1728.5L2063.4 1727.4L2066.2 1727.5L2069.0 1726.0L2071.8 1720.6L2074.6 1720.9L2077.4 1717.9L2080.1 1717.8L2083.0 1718.9L2085.9 1719.7L2088.8 1723.2L2091.6 1722.5L2094.5 1722.8L2097.4 1722.9L2100.6 1724.4L2103.8 1722.8L2107.0 1722.4L2110.1 1720.9L2113.2 1722.5L2116.3 1722.0L2119.4 1723.2L2122.4 1722.7L2125.5 1724.0L2128.6 1723.8L2131.4 1722.7L2134.2 1722.9L2137.1 1719.7L2140.1 1719.3L2143.0 1718.0L2145.9 1719.0L2148.7 1718.6L2151.4 1721.4L2154.2 1723.0L2157.0 1725.6L2159.7 1727.8L2162.4 1731.2L2165.0 1729.4L2167.7 1730.6L2170.2 1727.7L2172.8 1728.0L2175.3 1724.0L2177.9 1722.7L2180.6 1719.5L2183.6 1721.1L2186.8 1719.5L2190.0 1718.9L2193.3 1719.8L2196.4 1721.6L2199.4 1720.6L2202.2 1722.6L2205.0 1725.1L2207.7 1726.8L2210.5 1726.7L2213.5 1727.2L2216.5 1729.6L2219.7 1729.3L2223.0 1729.3L2226.3 1729.0L2229.5 1727.6L2232.6 1727.3L2235.4 1725.1L2238.1 1723.7L2240.7 1722.1L2243.3 1719.6L2245.9 1718.4L2248.5 1718.8L2251.3 1717.1L2254.2 1718.5L2257.0 1719.2L2259.9 1719.3L2262.8 1722.2L2265.7 1720.8L2268.6 1722.6L2271.6 1721.2L2274.6 1719.0L2277.6 1718.5L2280.6 1716.1L2283.5 1717.0L2286.3 1714.0L2288.6 1717.5L2290.9 1719.0L2293.1 1721.0L2295.3 1722.4L2297.5 1725.1L2299.7 1727.0L2301.9 1731.1L2304.1 1732.2L2306.7 1733.7L2309.6 1732.7L2312.5 1731.9L2315.4 1728.7L2318.3 1728.8L2321.2 1728.1L2324.2 1728.5L2327.4 1726.1L2330.6 1730.0L2333.7 1728.5L2336.7 1730.8L2340.0 1731.3L2343.4 1732.9L2346.7 1731.5L2350.0 1731.1L2350.0 1731.0" stroke="#ff0000" stroke-width="11"/>
<path d="M192.0 1383.9L195.2 1383.7L198.6 1389.9L200.9 1379.4L202.8 1386.8L204.9 1379.4L207.3 1391.0L209.9 1387.9L212.7 1391.8L215.6 1385.3L218.7 1388.4L221.9 1385.9L225.2 1384.3L228.5 1387.3L231.9 1382.4L235.4 1385.4L238.8 1389.0L242.2 1386.7L245.5 1384.9L248.8 1393.8L252.0 1386.2L255.1 1383.7L258.0 1386.1L261.0 1383.5L263.9 1383.7L266.9 1383.5L269.9 1391.5L272.9 1384.2L275.9 1384.4L278.9 1385.8L281.9 1390.1L284.9 1381.9L287.9 1380.1L291.0 1390.6L294.0 1376.5L297.0 1380.0L300.0 1383.3L303.1 1388.7L306.1 1377.1L309.1 1371.7L312.1 1382.3L315.1 1378.0L318.2 1378.4L321.3 1381.2L324.5 1380.3L327.6 1380.5L330.8 1378.0L334.0 1384.0L337.1 1384.8L340.3 1379.6L343.5 1377.9L346.6 1382.1L349.6 1381.2L352.7 1375.9L355.7 1377.8L358.6 1383.0L361.4 1378.9L364.2 1378.0L366.9 1379.7L369.4 1378.6L372.5 1378.4L375.9 1371.1L379.1 1383.3L382.3 1377.2L385.2 1372.7L388.2 1378.4L391.1 1375.3L394.0 1373.7L397.0 1376.8L400.0 1380.6L403.1 1374.4L406.2 1378.0L409.2 1380.0L412.3 1369.0L415.4 1370.9L418.5 1375.6L421.6 1367.0L424.7 1372.0L427.8 1377.4L430.8 1376.2L433.9 1374.1L437.0 1364.9L440.1 1379.2L443.1 1372.2L446.2 1372.2L449.3 1370.6L452.3 1362.1L455.4 1362.5L458.5 1362.6L461.6 1373.1L464.7 1362.9L467.7 1364.5L470.8 1363.9L473.9 1366.3L477.0 1365.6L480.1 1364.4L483.2 1358.6L486.3 1353.9L489.3 1362.9L492.4 1363.0L495.5 1366.2L498.6 1361.3L501.7 1359.4L504.8 1362.8L507.8 1355.8L510.9 1357.5L514.0 1357.6L517.1 1362.0L520.2 1368.3L523.3 1363.7L526.4 1365.1L529.5 1362.1L532.5 1362.4L535.6 1359.9L538.7 1360.5L541.8 1352.9L544.9 1357.0L547.9 1356.3L550.8 1363.2L553.7 1361.9L556.7 1362.9L559.6 1363.5L562.5 1356.1L565.4 1360.0L568.4 1362.3L571.3 1354.7L574.2 1357.8L577.2 1352.8L580.3 1347.2L583.4 1352.8L586.5 1349.1L589.6 1351.9L592.7 1349.5L595.8 1351.8L598.8 1342.8L601.9 1357.1L605.0 1354.1L608.1 1347.5L611.2 1345.0L614.2 1347.5L617.3 1349.3L620.4 1347.7L623.4 1347.0L626.5 1338.1L629.6 1340.4L632.7 1348.5L635.7 1344.1L638.8 1337.5L641.9 1339.4L645.0 1337.0L648.1 1338.1L651.2 1345.4L654.3 1340.1L657.4 1344.3L660.5 1340.4L663.5 1333.7L666.3 1335.9L669.2 1345.4L672.0 1333.6L674.8 1331.5L677.6 1338.5L680.4 1333.3L683.1 1331.7L685.9 1335.7L688.7 1323.0L691.4 1329.4L694.1 1322.9L696.8 1320.3L699.5 1321.0L702.1 1326.5L704.8 1320.4L707.4 1312.8L710.0 1313.8L712.7 1321.7L715.3 1318.4L718.0 1309.4L720.7 1320.5L723.4 1309.2L726.2 1304.9L729.0 1307.5L731.8 1310.1L734.6 1311.3L737.4 1308.0L740.2 1301.6L743.0 1299.9L745.8 1295.5L748.6 1299.1L751.4 1295.9L754.1 1297.5L756.8 1290.6L759.5 1291.8L762.3 1288.9L765.0 1286.2L767.7 1284.7L770.3 1283.7L773.0 1281.5L775.6 1286.2L778.2 1282.9L780.7 1276.3L783.3 1281.2L785.9 1278.8L788.5 1281.4L791.0 1273.9L793.5 1272.3L796.0 1268.9L798.5 1270.1L800.9 1269.7L803.4 1266.8L805.7 1263.4L808.0 1264.5L810.3 1260.9L812.5 1259.5L814.8 1253.3L817.0 1255.4L819.2 1249.0L821.4 1247.5L823.6 1249.0L825.8 1253.8L828.0 1247.7L830.1 1242.0L832.2 1239.2L834.3 1241.2L836.4 1240.5L838.5 1237.7L840.5 1230.4L842.6 1229.5L844.6 1225.4L846.7 1223.2L848.7 1218.8L850.7 1218.7L852.7 1209.5L854.7 1210.5L856.6 1214.0L858.5 1206.8L860.5 1209.6L862.4 1200.6L864.3 1201.4L866.3 1201.7L868.2 1194.0L870.0 1192.7L871.9 1201.5L873.7 1187.8L875.5 1185.3L877.3 1183.3L879.1 1182.9L880.9 1180.1L882.7 1181.2L884.4 1178.0L886.1 1171.1L887.8 1168.7L889.5 1162.4L891.2 1159.6L892.8 1159.7L894.5 1162.4L896.2 1157.7L897.9 1157.6L899.6 1155.5L901.4 1149.0L903.1 1154.6L904.9 1142.7L906.7 1139.8L908.4 1137.9L910.2 1141.0L911.9 1133.9L913.6 1129.1L915.2 1130.7L916.7 1130.6L918.2 1123.5L919.6 1120.3L921.0 1122.3L922.2 1119.3L923.5 1116.4L924.7 1107.5L925.8 1108.4L927.0 1105.9L928.3 1095.4L929.5 1103.3L930.8 1096.5L932.2 1092.1L933.5 1098.7L934.9 1088.5L936.3 1082.7L937.8 1082.3L939.2 1081.8L940.7 1080.0L942.2 1074.1L943.7 1068.4L945.2 1066.3L946.7 1063.1L948.2 1059.5L949.7 1060.4L951.2 1056.0L952.6 1055.2L954.1 1049.3L955.6 1046.5L957.1 1046.1L958.6 1042.8L960.1 1045.4L961.6 1035.3L963.0 1036.5L964.5 1032.9L966.0 1025.7L967.4 1030.2L968.8 1025.5L970.2 1014.8L971.5 1021.7L972.9 1020.1L974.3 1011.1L975.6 1017.3L976.9 1009.0L978.2 1001.6L979.5 1005.0L980.7 999.0L982.0 992.8L983.2 987.1L984.4 992.9L985.7 986.5L986.9 988.6L988.0 984.9L989.1 978.8L990.2 975.8L991.3 981.1L992.4 977.9L993.5 971.5L994.6 964.6L995.7 959.5L996.8 958.7L998.0 963.3L999.1 956.3L1000.4 951.1L1001.8 945.0L1003.4 947.1L1005.0 940.6L1006.7 941.2L1008.3 941.2L1010.1 939.9L1011.9 934.2L1013.8 930.0L1015.7 929.6L1017.7 932.9L1019.8 925.6L1022.0 917.2L1024.2 925.6L1026.5 918.9L1028.8 924.6L1031.0 912.0L1033.2 911.1L1035.4 908.0L1037.3 908.0L1039.2 901.9L1040.9 895.8L1042.7 891.2L1044.5 894.7L1046.3 890.4L1048.1 887.5L1049.9 894.7L1051.9 888.1L1053.9 887.7L1056.4 881.1L1059.3 883.8L1062.3 882.4L1065.4 883.3L1068.5 887.7L1071.6 888.3L1074.7 888.1L1077.8 888.2L1080.9 883.1L1084.0 886.2L1087.1 890.9L1090.1 889.1L1092.9 888.6L1095.8 893.9L1098.6 890.9L1101.3 893.5L1103.9 900.9L1106.4 898.4L1109.0 906.8L1111.4 905.4L1113.7 908.4L1116.1 911.5L1118.4 901.9L1120.6 911.5L1122.8 909.4L1124.8 914.7L1126.6 918.5L1128.3 925.9L1129.9 924.0L1131.5 932.8L1133.2 927.8L1135.0 932.2L1136.9 935.2L1138.8 940.5L1140.8 939.2L1142.9 939.5L1145.0 942.8L1147.2 941.3L1149.2 953.0L1151.3 953.5L1153.2 954.8L1155.1 956.7L1156.9 956.1L1158.6 959.3L1160.4 966.1L1162.1 963.0L1163.8 965.7L1165.5 976.7L1167.2 979.5L1168.7 977.7L1170.1 981.0L1171.4 982.4L1172.7 989.4L1174.0 985.5L1175.3 990.1L1176.6 994.3L1178.0 1000.5L1179.3 997.4L1180.7 1001.9L1182.1 1002.3L1183.6 1004.5L1185.1 1007.2L1186.5 1012.3L1187.9 1017.7L1189.3 1014.7L1190.8 1017.6L1192.3 1021.0L1193.8 1026.3L1195.4 1030.1L1196.9 1025.9L1198.5 1034.2L1200.1 1032.1L1201.7 1040.8L1203.3 1037.5L1204.9 1039.6L1206.4 1043.5L1208.0 1048.3L1209.6 1047.6L1211.3 1054.5L1212.9 1056.8L1214.6 1059.1L1216.3 1062.3L1218.0 1067.0L1219.7 1063.8L1221.4 1068.9L1223.1 1071.3L1224.7 1066.7L1226.4 1077.8L1228.1 1076.2L1229.8 1078.9L1231.5 1082.3L1233.2 1086.7L1234.9 1090.1L1236.5 1093.2L1238.2 1091.7L1239.9 1099.1L1241.5 1100.8L1243.2 1100.5L1244.8 1104.4L1246.5 1109.9L1248.2 1111.2L1249.8 1114.6L1251.5 1115.0L1253.2 1121.1L1255.0 1127.3L1256.7 1123.4L1258.6 1118.6L1260.6 1132.7L1262.6 1127.0L1264.6 1126.4L1266.6 1125.2L1268.7 1137.1L1270.7 1141.6L1272.8 1143.5L1274.9 1140.8L1276.9 1149.4L1279.0 1146.2L1281.0 1146.7L1283.0 1151.3L1284.9 1154.1L1286.9 1156.0L1288.8 1159.7L1290.7 1153.1L1292.6 1168.7L1294.5 1163.7L1296.4 1170.4L1298.4 1167.7L1300.3 1173.4L1302.3 1174.4L1304.3 1171.6L1306.4 1180.4L1308.9 1183.5L1311.4 1179.4L1313.9 1177.8L1316.5 1184.7L1319.0 1185.8L1321.7 1190.8L1324.3 1192.0L1326.9 1199.3L1329.5 1197.6L1332.1 1196.2L1334.8 1199.4L1337.5 1191.9L1340.2 1199.2L1342.9 1200.9L1345.6 1205.4L1348.3 1208.5L1351.0 1209.6L1353.8 1213.5L1356.7 1209.1L1359.7 1213.7L1362.7 1213.1L1365.8 1214.5L1368.9 1216.3L1372.0 1215.0L1375.0 1217.5L1378.1 1217.6L1381.0 1222.3L1383.9 1219.5L1386.8 1222.2L1389.6 1231.2L1392.5 1225.9L1395.3 1226.8L1398.2 1229.9L1401.1 1223.7L1404.0 1230.5L1407.0 1231.3L1410.0 1230.8L1413.1 1233.1L1416.2 1232.8L1419.2 1234.5L1422.3 1228.2L1425.4 1232.0L1428.4 1228.5L1431.5 1234.5L1434.5 1230.2L1437.6 1224.7L1440.6 1228.9L1443.7 1224.3L1446.7 1230.5L1449.8 1225.1L1452.8 1217.9L1455.9 1223.3L1458.9 1227.3L1462.0 1223.9L1465.0 1219.5L1468.0 1223.0L1471.1 1221.8L1474.1 1224.0L1477.2 1221.4L1480.2 1219.0L1483.3 1214.6L1486.3 1218.1L1489.4 1218.0L1492.5 1216.8L1495.5 1218.0L1498.6 1212.1L1501.6 1217.7L1504.7 1215.1L1507.8 1215.6L1510.8 1213.2L1513.9 1211.6L1516.9 1212.6L1520.0 1213.4L1523.0 1208.4L1526.0 1209.5L1528.8 1204.6L1531.5 1207.6L1534.3 1205.0L1537.0 1199.2L1539.7 1206.3L1542.4 1197.8L1545.1 1199.7L1547.8 1193.3L1550.4 1190.2L1552.9 1196.8L1555.4 1188.0L1557.9 1183.8L1560.4 1188.5L1562.8 1181.9L1565.3 1184.6L1567.7 1189.6L1570.1 1179.8L1572.5 1180.2L1574.8 1178.7L1576.8 1175.5L1578.9 1172.1L1580.9 1175.5L1582.8 1167.7L1584.8 1166.9L1586.7 1163.6L1588.6 1156.4L1590.6 1159.5L1592.5 1156.1L1594.4 1155.7L1596.3 1153.4L1598.2 1154.0L1600.2 1139.6L1602.1 1141.9L1604.0 1139.8L1606.0 1136.1L1608.0 1138.1L1610.0 1134.0L1611.9 1132.3L1613.8 1123.8L1615.7 1123.7L1617.6 1124.3L1619.4 1120.5L1621.1 1117.4L1622.8 1116.6L1624.4 1113.4L1626.0 1108.0L1627.5 1114.7L1628.9 1103.9L1630.3 1105.7L1631.6 1102.8L1632.9 1101.2L1634.2 1093.1L1635.5 1088.8L1636.7 1090.9L1638.0 1087.3L1639.3 1075.3L1640.6 1071.9L1641.8 1076.1L1642.9 1073.9L1644.1 1071.6L1645.2 1071.2L1646.4 1063.6L1647.5 1072.8L1648.7 1064.3L1649.8 1062.9L1651.0 1056.4L1652.1 1045.5L1653.2 1050.6L1654.4 1045.1L1655.6 1045.7L1656.7 1041.0L1657.9 1040.9L1659.1 1032.7L1660.4 1031.6L1661.6 1030.0L1662.8 1024.6L1664.1 1022.8L1665.3 1023.7L1666.5 1025.4L1667.8 1015.2L1669.0 1016.0L1670.2 1006.4L1671.5 1006.0L1672.7 1005.9L1674.0 1004.0L1675.2 995.6L1676.5 998.4L1677.8 994.0L1679.1 995.2L1680.3 991.1L1681.6 986.9L1682.9 980.8L1684.2 980.3L1685.5 973.6L1686.8 970.9L1688.0 964.6L1689.3 963.6L1690.6 960.9L1691.9 962.1L1693.2 960.0L1694.5 952.2L1695.7 953.7L1697.0 952.6L1698.3 951.6L1699.6 945.3L1700.9 943.5L1702.2 938.7L1703.4 940.4L1704.7 929.0L1706.0 932.4L1707.3 920.7L1708.6 931.8L1709.8 926.3L1711.1 912.9L1712.4 915.5L1713.7 909.5L1715.0 905.4L1716.3 907.1L1717.6 902.6L1718.9 906.3L1720.2 898.0L1721.5 893.2L1722.7 894.0L1724.0 893.0L1725.2 891.7L1726.4 888.1L1727.8 878.3L1729.2 877.7L1730.5 877.1L1731.8 872.2L1733.1 875.0L1734.4 868.7L1735.7 867.0L1737.1 863.3L1738.6 862.1L1740.2 854.1L1741.8 863.7L1743.4 851.8L1745.1 848.4L1746.8 842.1L1748.6 845.3L1750.3 838.2L1752.0 841.5L1753.7 842.1L1755.6 837.4L1757.7 831.3L1759.7 834.8L1761.7 827.4L1763.6 825.6L1765.4 823.7L1767.0 819.5L1767.9 821.0L1768.8 813.4L1769.6 809.6L1770.3 817.9L1771.0 809.4L1772.4 807.9L1773.8 809.1L1775.1 807.7L1776.4 808.7L1777.0 814.1L1777.7 813.5L1778.3 820.6L1779.7 819.9L1781.7 820.7L1784.2 821.5L1785.6 812.0L1787.1 811.0L1790.4 817.3L1792.2 818.6L1794.0 814.2L1797.2 812.0L1798.8 820.2L1800.1 820.3L1801.3 825.2L1802.3 818.8L1802.9 826.4L1804.1 826.5L1805.6 829.1L1807.5 837.2L1809.7 839.7L1812.0 837.5L1814.3 840.2L1816.4 848.0L1818.0 847.9L1819.4 847.7L1820.6 852.4L1821.7 853.7L1822.8 851.8L1823.9 857.3L1825.0 863.1L1826.1 867.4L1827.1 864.0L1828.1 867.9L1829.0 871.3L1829.9 870.9L1830.9 882.7L1831.9 883.4L1832.8 889.3L1833.8 880.2L1834.8 888.0L1835.7 900.1L1836.7 892.1L1837.6 893.7L1838.5 903.8L1839.4 911.5L1840.2 911.3L1841.0 908.7L1841.8 916.9L1842.5 919.3L1843.3 921.8L1844.0 925.2L1844.7 929.7L1845.3 933.8L1846.0 937.5L1846.7 939.4L1847.3 938.2L1848.0 935.4L1848.6 946.7L1849.3 942.7L1849.9 958.8L1850.6 950.0L1851.2 950.6L1851.8 953.5L1852.4 964.1L1853.0 966.7L1853.6 970.8L1854.2 972.5L1854.8 971.8L1855.4 980.2L1856.0 978.0L1856.6 978.2L1857.2 989.5L1857.8 991.2L1858.4 989.2L1859.0 994.5L1859.5 1001.9L1860.1 1004.6L1860.7 1000.7L1861.3 1011.3L1861.9 1001.7L1862.4 1013.6L1863.0 1017.6L1863.6 1018.8L1864.2 1022.5L1864.7 1019.5L1865.3 1027.6L1865.9 1032.7L1866.4 1030.7L1867.0 1037.4L1867.6 1039.3L1868.1 1035.1L1868.7 1043.8L1869.2 1050.9L1869.8 1046.6L1870.3 1055.1L1870.9 1059.3L1871.4 1056.8L1871.9 1063.3L1872.4 1070.2L1872.9 1072.5L1873.4 1069.6L1873.9 1079.5L1874.3 1080.1L1874.8 1082.4L1875.2 1090.2L1875.7 1090.6L1876.1 1092.4L1876.6 1097.5L1877.1 1099.6L1877.5 1104.7L1878.0 1103.0L1878.4 1100.3L1878.9 1114.8L1879.3 1115.2L1879.8 1117.3L1880.3 1118.6L1880.8 1121.0L1881.3 1124.6L1881.8 1123.8L1882.3 1132.7L1882.9 1133.4L1883.4 1132.9L1884.0 1140.2L1884.6 1141.1L1885.2 1145.2L1885.8 1150.1L1886.4 1159.9L1887.0 1150.4L1887.6 1158.4L1888.2 1162.4L1888.8 1164.3L1889.4 1170.9L1890.0 1167.2L1890.6 1170.4L1891.2 1174.5L1891.8 1172.7L1892.4 1184.2L1893.0 1179.1L1893.6 1188.3L1894.2 1193.5L1894.7 1189.6L1895.3 1194.9L1895.9 1197.9L1896.4 1207.6L1897.0 1205.6L1897.6 1201.6L1898.2 1214.5L1898.8 1217.3L1899.4 1209.8L1900.0 1210.9L1900.6 1231.3L1901.2 1225.7L1901.8 1220.8L1902.5 1234.5L1903.2 1238.7L1904.0 1228.6L1904.8 1244.3L1905.6 1245.3L1906.4 1245.7L1907.3 1246.1L1908.1 1252.7L1909.0 1251.4L1909.9 1257.5L1910.8 1258.9L1911.7 1261.0L1912.7 1267.3L1913.7 1271.6L1914.8 1274.2L1915.8 1275.6L1916.9 1282.9L1918.0 1275.6L1919.2 1283.1L1920.3 1286.4L1921.5 1292.9L1922.7 1283.7L1923.9 1292.9L1925.1 1296.1L1926.4 1300.7L1927.6 1310.7L1928.9 1306.5L1930.2 1308.2L1931.5 1313.0L1932.9 1317.7L1934.2 1316.6L1935.6 1325.8L1937.0 1318.4L1938.4 1329.5L1939.8 1330.1L1941.3 1333.4L1943.0 1337.8L1945.1 1334.3L1947.2 1339.0L1949.4 1340.8L1951.6 1339.9L1953.8 1341.4L1956.3 1343.3L1959.0 1350.8L1961.7 1341.5L1964.5 1346.6L1967.5 1352.8L1970.2 1358.6L1972.8 1355.0L1975.5 1361.0L1978.3 1357.7L1981.1 1357.3L1983.9 1355.1L1986.7 1362.5L1989.4 1369.3L1992.0 1365.1L1994.6 1362.9L1997.1 1370.3L1999.6 1365.2L2002.2 1367.7L2004.9 1377.1L2007.7 1376.0L2010.6 1378.9L2013.5 1377.1L2016.5 1376.4L2019.6 1377.9L2022.9 1376.5L2026.1 1381.5L2029.4 1373.6L2032.6 1371.7L2035.7 1375.7L2038.8 1382.1L2041.9 1377.6L2044.9 1371.9L2047.9 1389.1L2050.8 1377.6L2053.8 1380.6L2056.7 1383.7L2059.8 1383.5L2062.9 1382.2L2065.9 1377.8L2068.8 1385.6L2071.8 1380.9L2074.8 1384.3L2077.8 1388.2L2080.8 1384.8L2083.9 1380.5L2087.0 1385.2L2090.2 1390.0L2093.3 1390.9L2096.5 1384.3L2099.6 1389.3L2102.5 1390.5L2105.5 1393.5L2108.5 1391.4L2111.6 1390.8L2114.6 1389.4L2117.7 1392.3L2120.8 1393.5L2123.9 1390.4L2127.0 1390.0L2130.0 1397.1L2133.1 1390.9L2136.2 1388.3L2139.2 1393.3L2142.3 1386.5L2145.3 1386.7L2148.3 1393.3L2151.4 1389.8L2154.4 1392.1L2157.5 1391.6L2160.5 1385.8L2163.5 1389.8L2166.6 1386.3L2169.6 1388.1L2172.6 1388.0L2175.7 1386.7L2178.7 1382.5L2181.8 1388.2L2184.8 1387.4L2187.8 1389.4L2190.9 1384.3L2193.9 1389.0L2196.9 1388.0L2200.0 1387.7L2203.0 1388.7L2206.1 1389.1L2209.1 1385.6L2212.1 1388.8L2215.2 1389.3L2218.2 1392.7L2221.3 1390.6L2224.3 1396.1L2227.4 1393.3L2230.4 1392.2L2233.5 1391.8L2236.5 1386.1L2239.5 1392.2L2242.6 1395.2L2245.6 1387.3L2248.7 1395.4L2251.7 1393.0L2254.8 1391.9L2257.8 1389.6L2260.9 1391.3L2263.9 1388.8L2266.9 1391.7L2270.0 1392.2L2273.0 1392.5L2276.1 1388.4L2279.1 1396.2L2282.1 1391.1L2285.2 1395.0L2288.2 1396.1L2291.2 1393.7L2294.3 1403.2L2297.3 1395.5L2300.5 1396.9L2303.7 1395.0L2306.9 1397.4L2310.2 1392.3L2313.5 1399.3L2316.7 1396.2L2319.9 1396.2L2323.0 1401.0L2326.0 1401.8L2328.9 1397.6L2331.6 1395.9L2334.1 1392.8L2337.2 1396.6L2339.0 1401.9L2342.3 1402.6L2345.4 1396.3L2348.4 1401.0L2350.0 1401.0" stroke="#ff8000" stroke-width="8"/>
</g>
<g class="sans" font-size="100">
<text transform="translate(217.46,582.97) scale(0.9842,1.0338)" fill="#000">LS</text>
<text transform="translate(211.86,1025.26) scale(0.9850,1.0408)" fill="#ff8000">GO</text>
<text transform="translate(212.98,1483.86) scale(0.9891,1.0408)" fill="#000">HS</text>
<text transform="translate(1874.33,190.36) scale(0.9886,1.0394)" fill="#ff0000">SCO</text>
<text transform="translate(1873.93,316.25) scale(0.9951,1.0471)" fill="#0000ff">NP5</text>
</g>
<rect x="197" y="72.7" width="2144" height="1685.3" fill="none" stroke="#000" stroke-width="5.7"/>
<g stroke="#000" stroke-width="5.7"><line x1="398.0" y1="1758" x2="398.0" y2="1786.5"/><line x1="803.2" y1="1758" x2="803.2" y2="1786.5"/><line x1="1208.4" y1="1758" x2="1208.4" y2="1786.5"/><line x1="1613.6" y1="1758" x2="1613.6" y2="1786.5"/><line x1="2018.8" y1="1758" x2="2018.8" y2="1786.5"/><line x1="600.6" y1="1758" x2="600.6" y2="1772.3"/><line x1="1005.8" y1="1758" x2="1005.8" y2="1772.3"/><line x1="1411.0" y1="1758" x2="1411.0" y2="1772.3"/><line x1="1816.2" y1="1758" x2="1816.2" y2="1772.3"/><line x1="2221.4" y1="1758" x2="2221.4" y2="1772.3"/></g>
<g class="serif" font-size="100" fill="#000">
<g stroke="#000" stroke-width="0.7">
<text transform="translate(312.13,1873.42) scale(0.8749,0.8912)">1120</text>
<text transform="translate(716.4,1873.42) scale(0.867,0.8912)">1260</text>
<text transform="translate(1122.9,1873.42) scale(0.867,0.8912)">1400</text>
<text transform="translate(1527.2,1873.42) scale(0.867,0.8912)">1540</text>
<text transform="translate(1933.27,1873.42) scale(0.8588,0.8912)">1680</text>
</g>
<text transform="translate(860.7,2027.6) scale(1.0113,1.03)">Wavenumbers[1/cm]</text>
<text transform="translate(101,1116.84) rotate(-90) scale(1.0106,1.03)">Intensity/a.u.</text>
</g>
</svg>
</body></html>
